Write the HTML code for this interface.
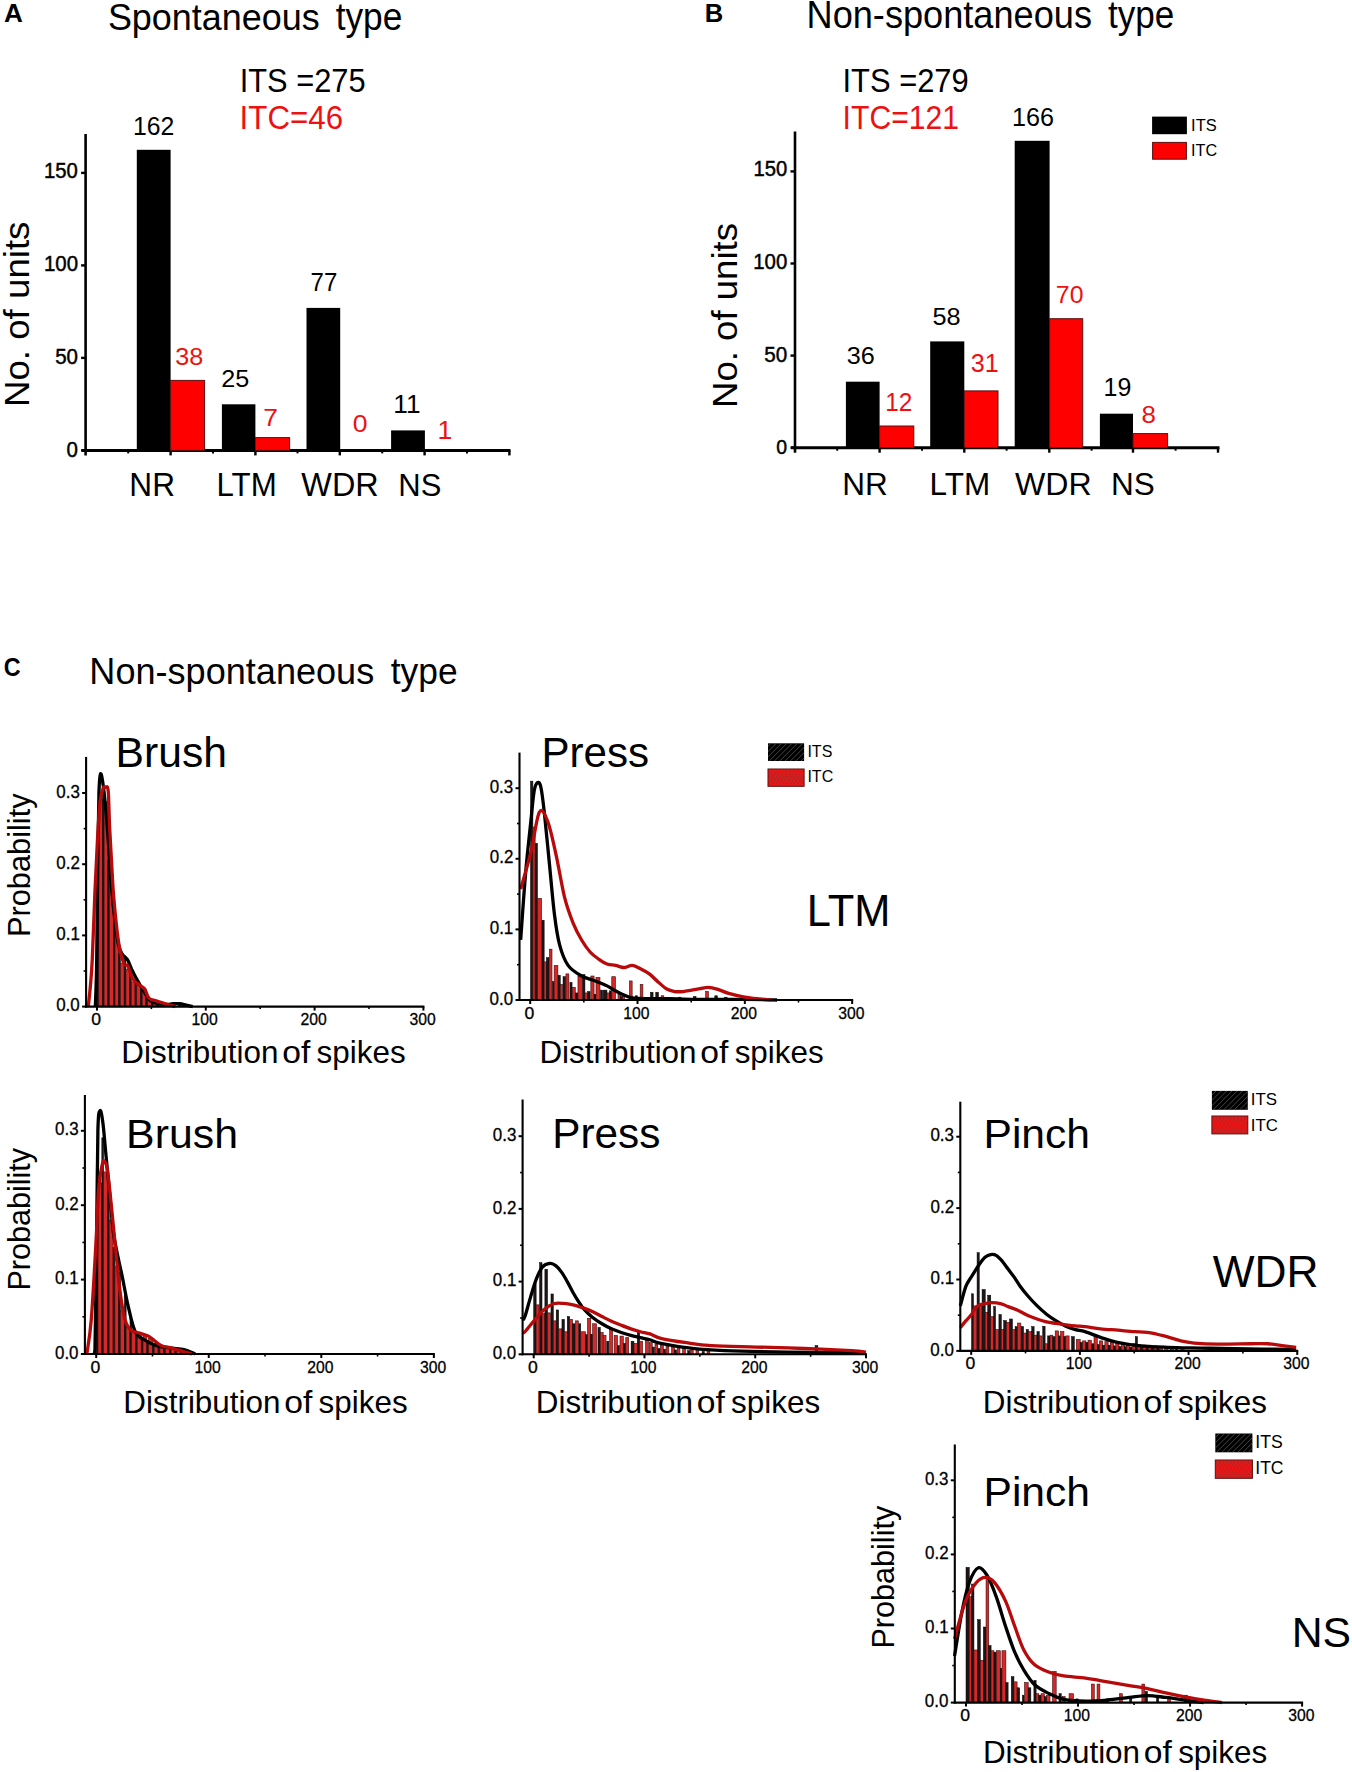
<!DOCTYPE html>
<html><head><meta charset="utf-8"><style>
html,body{margin:0;padding:0;background:#fff;}
svg{display:block;}
text{font-family:"Liberation Sans", sans-serif;}
</style></head><body>
<svg width="1352" height="1772" viewBox="0 0 1352 1772">
<rect x="0" y="0" width="1352" height="1772" fill="#fff"/>
<text transform="translate(4.05,22.20) scale(1.0261,1)" font-size="25.45" font-weight="bold" fill="#000">A</text>
<text transform="translate(107.88,29.60) scale(0.9573,1)" font-size="37.56" font-weight="normal" fill="#000">Spontaneous</text>
<text transform="translate(335.67,29.60) scale(0.9146,1)" font-size="38.60" font-weight="normal" fill="#000">type</text>
<text transform="translate(239.65,92.10) scale(0.9435,1)" font-size="32.69" font-weight="normal" fill="#000">ITS =275</text>
<text transform="translate(239.61,128.90) scale(0.9573,1)" font-size="32.69" font-weight="normal" fill="#ee1111">ITC=46</text>
<line x1="85.60" y1="134.00" x2="85.60" y2="455.40" stroke="#000" stroke-width="2.6"/>
<line x1="81.60" y1="450.40" x2="510.50" y2="450.40" stroke="#000" stroke-width="3"/>
<line x1="81.10" y1="450.40" x2="85.60" y2="450.40" stroke="#000" stroke-width="2.4"/>
<line x1="81.10" y1="357.90" x2="85.60" y2="357.90" stroke="#000" stroke-width="2.4"/>
<line x1="81.10" y1="265.40" x2="85.60" y2="265.40" stroke="#000" stroke-width="2.4"/>
<line x1="81.10" y1="172.90" x2="85.60" y2="172.90" stroke="#000" stroke-width="2.4"/>
<line x1="170.60" y1="450.40" x2="170.60" y2="455.40" stroke="#000" stroke-width="2.4"/>
<line x1="255.40" y1="450.40" x2="255.40" y2="455.40" stroke="#000" stroke-width="2.4"/>
<line x1="339.80" y1="450.40" x2="339.80" y2="455.40" stroke="#000" stroke-width="2.4"/>
<line x1="424.60" y1="450.40" x2="424.60" y2="455.40" stroke="#000" stroke-width="2.4"/>
<line x1="509.40" y1="450.40" x2="509.40" y2="455.40" stroke="#000" stroke-width="2.4"/>
<line x1="128.20" y1="450.40" x2="128.20" y2="453.40" stroke="#000" stroke-width="2"/>
<line x1="213.00" y1="450.40" x2="213.00" y2="453.40" stroke="#000" stroke-width="2"/>
<line x1="297.50" y1="450.40" x2="297.50" y2="453.40" stroke="#000" stroke-width="2"/>
<line x1="382.20" y1="450.40" x2="382.20" y2="453.40" stroke="#000" stroke-width="2"/>
<line x1="467.00" y1="450.40" x2="467.00" y2="453.40" stroke="#000" stroke-width="2"/>
<rect x="136.80" y="149.80" width="33.80" height="300.60" fill="#000"/>
<rect x="170.60" y="380.40" width="34.00" height="70.00" fill="#ff0000" stroke="#5a1010" stroke-width="1"/>
<rect x="221.90" y="404.30" width="33.50" height="46.10" fill="#000"/>
<rect x="255.40" y="437.60" width="34.20" height="12.80" fill="#ff0000" stroke="#5a1010" stroke-width="1"/>
<rect x="306.50" y="307.90" width="33.70" height="142.50" fill="#000"/>
<rect x="391.10" y="430.40" width="33.80" height="20.00" fill="#000"/>
<text transform="translate(43.98,178.20) scale(0.9513,1)" font-size="21.36" font-weight="normal" fill="#000" stroke="#000" stroke-width="0.45">150</text>
<text transform="translate(43.97,271.10) scale(0.9573,1)" font-size="21.36" font-weight="normal" fill="#000" stroke="#000" stroke-width="0.45">100</text>
<text transform="translate(55.18,363.90) scale(0.9612,1)" font-size="21.36" font-weight="normal" fill="#000" stroke="#000" stroke-width="0.45">50</text>
<text transform="translate(66.58,456.60) scale(0.9672,1)" font-size="21.22" font-weight="normal" fill="#000" stroke="#000" stroke-width="0.45">0</text>
<text transform="translate(133.04,135.20) scale(0.9491,1)" font-size="26.09" font-weight="normal" fill="#000">162</text>
<text transform="translate(175.26,365.30) scale(1.0138,1)" font-size="24.80" font-weight="normal" fill="#ee1111">38</text>
<text transform="translate(221.14,387.00) scale(1.0159,1)" font-size="24.80" font-weight="normal" fill="#000">25</text>
<text transform="translate(263.18,425.60) scale(1.1056,1)" font-size="23.85" font-weight="normal" fill="#ee1111">7</text>
<text transform="translate(310.60,291.00) scale(0.9506,1)" font-size="25.31" font-weight="normal" fill="#000">77</text>
<text transform="translate(352.74,431.60) scale(1.0786,1)" font-size="24.66" font-weight="normal" fill="#ee1111">0</text>
<text transform="translate(393.33,413.30) scale(1.0484,1)" font-size="25.02" font-weight="normal" fill="#000">11</text>
<text transform="translate(437.41,438.70) scale(1.0628,1)" font-size="25.02" font-weight="normal" fill="#ee1111">1</text>
<text transform="translate(129.29,495.50) scale(0.9666,1)" font-size="32.73" font-weight="normal" fill="#000">NR</text>
<text transform="translate(216.52,495.50) scale(0.9549,1)" font-size="32.73" font-weight="normal" fill="#000">LTM</text>
<text transform="translate(301.34,495.50) scale(0.9906,1)" font-size="32.73" font-weight="normal" fill="#000">WDR</text>
<text transform="translate(398.34,495.50) scale(0.9601,1)" font-size="32.26" font-weight="normal" fill="#000">NS</text>
<text transform="translate(28.90,407.03) rotate(-90) scale(1.0595,1)" font-size="34.62" font-weight="normal" fill="#000">No. of units</text>
<text transform="translate(704.87,22.00) scale(0.9990,1)" font-size="25.60" font-weight="bold" fill="#000">B</text>
<text transform="translate(806.52,28.30) scale(0.9494,1)" font-size="38.11" font-weight="normal" fill="#000">Non-spontaneous</text>
<text transform="translate(1108.07,28.30) scale(0.9089,1)" font-size="38.60" font-weight="normal" fill="#000">type</text>
<text transform="translate(842.54,92.30) scale(0.9365,1)" font-size="32.97" font-weight="normal" fill="#000">ITS =279</text>
<text transform="translate(842.61,128.90) scale(0.9229,1)" font-size="32.69" font-weight="normal" fill="#ee1111">ITC=121</text>
<line x1="795.00" y1="131.50" x2="795.00" y2="452.70" stroke="#000" stroke-width="2.6"/>
<line x1="791.00" y1="447.70" x2="1219.50" y2="447.70" stroke="#000" stroke-width="3"/>
<line x1="790.50" y1="447.70" x2="795.00" y2="447.70" stroke="#000" stroke-width="2.4"/>
<line x1="790.50" y1="355.60" x2="795.00" y2="355.60" stroke="#000" stroke-width="2.4"/>
<line x1="790.50" y1="263.50" x2="795.00" y2="263.50" stroke="#000" stroke-width="2.4"/>
<line x1="790.50" y1="171.40" x2="795.00" y2="171.40" stroke="#000" stroke-width="2.4"/>
<line x1="879.60" y1="447.70" x2="879.60" y2="452.70" stroke="#000" stroke-width="2.4"/>
<line x1="964.30" y1="447.70" x2="964.30" y2="452.70" stroke="#000" stroke-width="2.4"/>
<line x1="1049.30" y1="447.70" x2="1049.30" y2="452.70" stroke="#000" stroke-width="2.4"/>
<line x1="1133.00" y1="447.70" x2="1133.00" y2="452.70" stroke="#000" stroke-width="2.4"/>
<line x1="1218.00" y1="447.70" x2="1218.00" y2="452.70" stroke="#000" stroke-width="2.4"/>
<line x1="837.20" y1="447.70" x2="837.20" y2="450.70" stroke="#000" stroke-width="2"/>
<line x1="922.00" y1="447.70" x2="922.00" y2="450.70" stroke="#000" stroke-width="2"/>
<line x1="1006.60" y1="447.70" x2="1006.60" y2="450.70" stroke="#000" stroke-width="2"/>
<line x1="1091.60" y1="447.70" x2="1091.60" y2="450.70" stroke="#000" stroke-width="2"/>
<line x1="1175.60" y1="447.70" x2="1175.60" y2="450.70" stroke="#000" stroke-width="2"/>
<rect x="845.90" y="381.70" width="33.70" height="66.00" fill="#000"/>
<rect x="879.60" y="426.00" width="34.20" height="21.70" fill="#ff0000" stroke="#5a1010" stroke-width="1"/>
<rect x="930.20" y="341.40" width="34.10" height="106.30" fill="#000"/>
<rect x="964.30" y="390.90" width="33.70" height="56.80" fill="#ff0000" stroke="#5a1010" stroke-width="1"/>
<rect x="1014.70" y="140.80" width="34.90" height="306.90" fill="#000"/>
<rect x="1049.60" y="318.70" width="33.10" height="129.00" fill="#ff0000" stroke="#5a1010" stroke-width="1"/>
<rect x="1099.90" y="413.70" width="33.10" height="34.00" fill="#000"/>
<rect x="1133.00" y="433.60" width="34.60" height="14.10" fill="#ff0000" stroke="#5a1010" stroke-width="1"/>
<rect x="1152.10" y="116.60" width="34.80" height="17.60" fill="#000"/>
<rect x="1152.60" y="142.40" width="33.80" height="16.80" fill="#ff0000" stroke="#5a1010" stroke-width="1"/>
<text transform="translate(1191.08,131.40) scale(0.9799,1)" font-size="16.77" font-weight="normal" fill="#000">ITS</text>
<text transform="translate(1191.10,155.60) scale(0.9426,1)" font-size="17.20" font-weight="normal" fill="#000">ITC</text>
<text transform="translate(753.48,176.00) scale(0.9357,1)" font-size="21.65" font-weight="normal" fill="#000" stroke="#000" stroke-width="0.45">150</text>
<text transform="translate(753.27,268.70) scale(0.9479,1)" font-size="21.51" font-weight="normal" fill="#000" stroke="#000" stroke-width="0.45">100</text>
<text transform="translate(764.37,361.70) scale(0.9593,1)" font-size="21.51" font-weight="normal" fill="#000" stroke="#000" stroke-width="0.45">50</text>
<text transform="translate(776.22,454.20) scale(0.9241,1)" font-size="21.08" font-weight="normal" fill="#000" stroke="#000" stroke-width="0.45">0</text>
<text transform="translate(846.75,363.90) scale(1.0237,1)" font-size="24.66" font-weight="normal" fill="#000">36</text>
<text transform="translate(885.26,411.20) scale(0.9642,1)" font-size="25.38" font-weight="normal" fill="#ee1111">12</text>
<text transform="translate(932.49,324.90) scale(1.0261,1)" font-size="24.66" font-weight="normal" fill="#000">58</text>
<text transform="translate(970.66,372.20) scale(1.0032,1)" font-size="25.09" font-weight="normal" fill="#ee1111">31</text>
<text transform="translate(1012.01,125.80) scale(1.0029,1)" font-size="25.09" font-weight="normal" fill="#000">166</text>
<text transform="translate(1055.86,303.30) scale(1.0015,1)" font-size="24.80" font-weight="normal" fill="#ee1111">70</text>
<text transform="translate(1103.53,396.10) scale(1.0001,1)" font-size="24.95" font-weight="normal" fill="#000">19</text>
<text transform="translate(1141.40,423.30) scale(1.0907,1)" font-size="23.80" font-weight="normal" fill="#ee1111">8</text>
<text transform="translate(842.20,495.40) scale(0.9862,1)" font-size="32.00" font-weight="normal" fill="#000">NR</text>
<text transform="translate(929.50,495.40) scale(0.9837,1)" font-size="32.00" font-weight="normal" fill="#000">LTM</text>
<text transform="translate(1014.94,495.40) scale(1.0037,1)" font-size="32.00" font-weight="normal" fill="#000">WDR</text>
<text transform="translate(1111.10,495.40) scale(0.9995,1)" font-size="31.54" font-weight="normal" fill="#000">NS</text>
<text transform="translate(736.60,408.02) rotate(-90) scale(1.0325,1)" font-size="35.45" font-weight="normal" fill="#000">No. of units</text>
<text transform="translate(3.77,675.70) scale(0.8760,1)" font-size="26.67" font-weight="bold" fill="#000">C</text>
<text transform="translate(89.32,684.30) scale(0.9769,1)" font-size="36.95" font-weight="normal" fill="#000">Non-spontaneous</text>
<text transform="translate(390.77,684.30) scale(0.9464,1)" font-size="37.36" font-weight="normal" fill="#000">type</text>
<rect x="96.98" y="840.93" width="1.74" height="165.67" fill="#1e1616" stroke="#000" stroke-width="0.5"/>
<rect x="98.72" y="799.44" width="3.70" height="207.16" fill="#d62828" stroke="#3a0c0c" stroke-width="0.6"/>
<rect x="102.42" y="794.71" width="1.74" height="211.89" fill="#1e1616" stroke="#000" stroke-width="0.5"/>
<rect x="104.16" y="801.46" width="3.70" height="205.14" fill="#d62828" stroke="#3a0c0c" stroke-width="0.6"/>
<rect x="107.86" y="860.04" width="1.74" height="146.56" fill="#1e1616" stroke="#000" stroke-width="0.5"/>
<rect x="109.60" y="874.45" width="3.70" height="132.15" fill="#d62828" stroke="#3a0c0c" stroke-width="0.6"/>
<rect x="113.30" y="920.95" width="1.74" height="85.65" fill="#1e1616" stroke="#000" stroke-width="0.5"/>
<rect x="115.04" y="934.15" width="3.70" height="72.45" fill="#d62828" stroke="#3a0c0c" stroke-width="0.6"/>
<rect x="118.74" y="953.11" width="1.74" height="53.49" fill="#1e1616" stroke="#000" stroke-width="0.5"/>
<rect x="120.48" y="963.13" width="3.70" height="43.47" fill="#d62828" stroke="#3a0c0c" stroke-width="0.6"/>
<rect x="124.18" y="958.26" width="1.74" height="48.34" fill="#1e1616" stroke="#000" stroke-width="0.5"/>
<rect x="125.92" y="969.22" width="3.70" height="37.38" fill="#d62828" stroke="#3a0c0c" stroke-width="0.6"/>
<rect x="129.62" y="968.45" width="1.74" height="38.15" fill="#1e1616" stroke="#000" stroke-width="0.5"/>
<rect x="131.36" y="981.87" width="3.70" height="24.73" fill="#d62828" stroke="#3a0c0c" stroke-width="0.6"/>
<rect x="135.06" y="979.87" width="1.74" height="26.73" fill="#1e1616" stroke="#000" stroke-width="0.5"/>
<rect x="136.80" y="985.37" width="3.70" height="21.23" fill="#d62828" stroke="#3a0c0c" stroke-width="0.6"/>
<rect x="140.50" y="989.20" width="1.74" height="17.40" fill="#1e1616" stroke="#000" stroke-width="0.5"/>
<rect x="142.24" y="988.99" width="3.70" height="17.61" fill="#d62828" stroke="#3a0c0c" stroke-width="0.6"/>
<rect x="145.94" y="996.44" width="1.74" height="10.16" fill="#1e1616" stroke="#000" stroke-width="0.5"/>
<rect x="147.69" y="999.12" width="3.70" height="7.48" fill="#d62828" stroke="#3a0c0c" stroke-width="0.6"/>
<rect x="151.38" y="1002.17" width="1.74" height="4.43" fill="#1e1616" stroke="#000" stroke-width="0.5"/>
<rect x="153.13" y="1000.81" width="3.70" height="5.79" fill="#d62828" stroke="#3a0c0c" stroke-width="0.6"/>
<rect x="156.83" y="1003.79" width="1.74" height="2.81" fill="#1e1616" stroke="#000" stroke-width="0.5"/>
<rect x="158.57" y="1002.56" width="3.70" height="4.04" fill="#d62828" stroke="#3a0c0c" stroke-width="0.6"/>
<rect x="162.27" y="1004.37" width="1.74" height="2.23" fill="#1e1616" stroke="#000" stroke-width="0.5"/>
<rect x="164.01" y="1004.16" width="3.70" height="2.44" fill="#d62828" stroke="#3a0c0c" stroke-width="0.6"/>
<rect x="167.71" y="1004.38" width="1.74" height="2.22" fill="#1e1616" stroke="#000" stroke-width="0.5"/>
<rect x="169.45" y="1005.67" width="3.70" height="0.93" fill="#d62828" stroke="#3a0c0c" stroke-width="0.6"/>
<rect x="173.15" y="1003.88" width="1.74" height="2.72" fill="#1e1616" stroke="#000" stroke-width="0.5"/>
<rect x="178.59" y="1003.98" width="1.74" height="2.62" fill="#1e1616" stroke="#000" stroke-width="0.5"/>
<path d="M95.35,1006.60 C95.57,999.48 96.25,987.61 96.65,963.88 C97.05,940.15 97.36,892.68 97.74,864.20 C98.12,835.72 98.47,808.07 98.94,793.00 C99.41,777.93 99.85,774.96 100.57,773.78 C101.30,772.59 102.35,779.12 103.29,785.88 C104.23,792.64 105.29,803.68 106.23,814.36 C107.17,825.04 108.04,837.50 108.95,849.96 C109.86,862.42 110.67,877.25 111.67,889.12 C112.67,900.99 113.85,912.02 114.93,921.16 C116.02,930.30 117.02,938.49 118.20,943.94 C119.38,949.40 120.46,951.30 122.01,953.91 C123.55,956.52 125.81,957.00 127.45,959.61 C129.08,962.22 130.42,966.61 131.80,969.58 C133.18,972.54 133.83,973.97 135.72,977.41 C137.60,980.85 140.67,986.31 143.12,990.22 C145.56,994.14 147.94,998.65 150.41,1000.90 C152.87,1003.16 155.21,1003.16 157.91,1003.75 C160.62,1004.35 164.08,1004.46 166.62,1004.46 C169.16,1004.46 170.97,1003.87 173.15,1003.75 C175.32,1003.63 177.50,1003.51 179.68,1003.75 C181.85,1003.99 184.03,1004.70 186.20,1005.18 C188.38,1005.65 191.64,1006.36 192.73,1006.60" fill="none" stroke="#000" stroke-width="3.3" stroke-linejoin="round"/>
<path d="M88.28,1006.60 C88.64,1003.04 89.78,993.19 90.45,985.24 C91.12,977.29 91.54,974.80 92.30,958.90 C93.06,942.99 94.11,910.60 95.02,889.83 C95.93,869.07 96.87,849.25 97.74,834.30 C98.61,819.34 99.32,807.83 100.24,800.12 C101.17,792.41 102.38,790.15 103.29,788.02 C104.20,785.88 104.87,786.83 105.68,787.30 C106.50,787.78 107.53,784.22 108.19,790.86 C108.84,797.51 109.04,815.31 109.60,827.18 C110.16,839.04 110.89,850.55 111.56,862.06 C112.23,873.57 112.70,884.73 113.63,896.24 C114.55,907.75 116.08,922.35 117.11,931.13 C118.14,939.91 118.67,943.47 119.83,948.93 C120.99,954.39 122.80,961.15 124.07,963.88 C125.34,966.61 126.52,964.12 127.45,965.30 C128.37,966.49 128.73,968.75 129.62,971.00 C130.51,973.25 131.27,976.58 132.78,978.83 C134.28,981.09 136.70,982.87 138.65,984.53 C140.61,986.19 142.83,986.55 144.53,988.80 C146.23,991.05 146.92,996.04 148.88,998.06 C150.84,1000.07 153.14,999.84 156.28,1000.90 C159.42,1001.97 164.53,1003.51 167.71,1004.46 C170.88,1005.41 174.05,1006.24 175.32,1006.60" fill="none" stroke="#b80a0a" stroke-width="3.3" stroke-linejoin="round"/>
<line x1="86.10" y1="756.90" x2="86.10" y2="1007.60" stroke="#000" stroke-width="2.1"/>
<line x1="85.10" y1="1006.60" x2="424.41" y2="1006.60" stroke="#000" stroke-width="2.1"/>
<line x1="82.10" y1="1006.60" x2="86.10" y2="1006.60" stroke="#000" stroke-width="2"/>
<line x1="82.10" y1="935.40" x2="86.10" y2="935.40" stroke="#000" stroke-width="2"/>
<line x1="82.10" y1="864.20" x2="86.10" y2="864.20" stroke="#000" stroke-width="2"/>
<line x1="82.10" y1="793.00" x2="86.10" y2="793.00" stroke="#000" stroke-width="2"/>
<line x1="83.60" y1="971.00" x2="86.10" y2="971.00" stroke="#000" stroke-width="1.6"/>
<line x1="83.60" y1="899.80" x2="86.10" y2="899.80" stroke="#000" stroke-width="1.6"/>
<line x1="83.60" y1="828.60" x2="86.10" y2="828.60" stroke="#000" stroke-width="1.6"/>
<line x1="96.98" y1="1006.60" x2="96.98" y2="1010.60" stroke="#000" stroke-width="2"/>
<line x1="205.79" y1="1006.60" x2="205.79" y2="1010.60" stroke="#000" stroke-width="2"/>
<line x1="314.60" y1="1006.60" x2="314.60" y2="1010.60" stroke="#000" stroke-width="2"/>
<line x1="423.41" y1="1006.60" x2="423.41" y2="1010.60" stroke="#000" stroke-width="2"/>
<line x1="151.38" y1="1006.60" x2="151.38" y2="1009.10" stroke="#000" stroke-width="1.6"/>
<line x1="260.19" y1="1006.60" x2="260.19" y2="1009.10" stroke="#000" stroke-width="1.6"/>
<line x1="369.01" y1="1006.60" x2="369.01" y2="1009.10" stroke="#000" stroke-width="1.6"/>
<text transform="translate(56.15,1011.20) scale(0.9700,1)" font-size="17.49" font-weight="normal" fill="#000" stroke="#000" stroke-width="0.3">0.0</text>
<text transform="translate(56.32,940.00) scale(0.9700,1)" font-size="17.49" font-weight="normal" fill="#000" stroke="#000" stroke-width="0.3">0.1</text>
<text transform="translate(56.37,868.80) scale(0.9700,1)" font-size="17.49" font-weight="normal" fill="#000" stroke="#000" stroke-width="0.3">0.2</text>
<text transform="translate(56.24,797.60) scale(0.9700,1)" font-size="17.49" font-weight="normal" fill="#000" stroke="#000" stroke-width="0.3">0.3</text>
<text transform="translate(91.28,1025.10) scale(1.0400,1)" font-size="16.92" font-weight="normal" fill="#000" stroke="#000" stroke-width="0.3">0</text>
<text transform="translate(191.58,1025.10) scale(0.9300,1)" font-size="16.92" font-weight="normal" fill="#000" stroke="#000" stroke-width="0.3">100</text>
<text transform="translate(300.58,1025.10) scale(0.9300,1)" font-size="16.92" font-weight="normal" fill="#000" stroke="#000" stroke-width="0.3">200</text>
<text transform="translate(409.49,1025.10) scale(0.9300,1)" font-size="16.92" font-weight="normal" fill="#000" stroke="#000" stroke-width="0.3">300</text>
<text transform="translate(115.58,766.70) scale(1.0236,1)" font-size="41.66" font-weight="normal" fill="#000">Brush</text>
<text transform="translate(29.80,937.04) rotate(-90) scale(0.9872,1)" font-size="31.17" font-weight="normal" fill="#000">Probability</text>
<text transform="translate(121.31,1062.80) scale(1.0265,1)" font-size="30.62" font-weight="normal" fill="#000">Distribution</text>
<text transform="translate(282.17,1062.80) scale(1.0771,1)" font-size="31.28" font-weight="normal" fill="#000">of</text>
<text transform="translate(316.54,1062.80) scale(1.0168,1)" font-size="30.90" font-weight="normal" fill="#000">spikes</text>
<rect x="530.52" y="781.14" width="2.36" height="218.86" fill="#1e1616" stroke="#000" stroke-width="0.5"/>
<rect x="532.88" y="827.03" width="2.25" height="172.97" fill="#d62828" stroke="#3a0c0c" stroke-width="0.6"/>
<rect x="535.14" y="843.27" width="2.36" height="156.73" fill="#1e1616" stroke="#000" stroke-width="0.5"/>
<rect x="537.71" y="898.34" width="3.86" height="101.66" fill="#d62828" stroke="#3a0c0c" stroke-width="0.6"/>
<rect x="542.01" y="920.22" width="2.15" height="79.78" fill="#1e1616" stroke="#000" stroke-width="0.5"/>
<rect x="544.15" y="961.88" width="2.25" height="38.12" fill="#d62828" stroke="#3a0c0c" stroke-width="0.6"/>
<rect x="546.41" y="957.64" width="2.58" height="42.36" fill="#1e1616" stroke="#000" stroke-width="0.5"/>
<rect x="549.41" y="949.17" width="2.58" height="50.83" fill="#d62828" stroke="#3a0c0c" stroke-width="0.6"/>
<rect x="552.42" y="981.64" width="1.93" height="18.36" fill="#1e1616" stroke="#000" stroke-width="0.5"/>
<rect x="554.13" y="965.41" width="3.76" height="34.59" fill="#d62828" stroke="#3a0c0c" stroke-width="0.6"/>
<rect x="558.10" y="975.29" width="2.15" height="24.71" fill="#1e1616" stroke="#000" stroke-width="0.5"/>
<rect x="560.25" y="984.47" width="2.15" height="15.53" fill="#d62828" stroke="#3a0c0c" stroke-width="0.6"/>
<rect x="563.04" y="976.70" width="2.58" height="23.30" fill="#1e1616" stroke="#000" stroke-width="0.5"/>
<rect x="565.94" y="973.88" width="2.90" height="26.12" fill="#d62828" stroke="#3a0c0c" stroke-width="0.6"/>
<rect x="569.91" y="982.35" width="2.15" height="17.65" fill="#1e1616" stroke="#000" stroke-width="0.5"/>
<rect x="572.38" y="987.29" width="2.90" height="12.71" fill="#d62828" stroke="#3a0c0c" stroke-width="0.6"/>
<rect x="575.27" y="992.94" width="2.68" height="7.06" fill="#1e1616" stroke="#000" stroke-width="0.5"/>
<rect x="577.96" y="976.00" width="4.29" height="24.00" fill="#d62828" stroke="#3a0c0c" stroke-width="0.6"/>
<rect x="582.79" y="974.58" width="2.15" height="25.42" fill="#1e1616" stroke="#000" stroke-width="0.5"/>
<rect x="584.93" y="992.94" width="2.68" height="7.06" fill="#d62828" stroke="#3a0c0c" stroke-width="0.6"/>
<rect x="587.62" y="991.53" width="2.47" height="8.47" fill="#1e1616" stroke="#000" stroke-width="0.5"/>
<rect x="590.84" y="976.00" width="3.22" height="24.00" fill="#d62828" stroke="#3a0c0c" stroke-width="0.6"/>
<rect x="594.06" y="994.35" width="1.93" height="5.65" fill="#1e1616" stroke="#000" stroke-width="0.5"/>
<rect x="595.99" y="977.41" width="3.97" height="22.59" fill="#d62828" stroke="#3a0c0c" stroke-width="0.6"/>
<rect x="600.49" y="990.12" width="2.15" height="9.88" fill="#1e1616" stroke="#000" stroke-width="0.5"/>
<rect x="603.18" y="990.12" width="3.76" height="9.88" fill="#1e1616" stroke="#000" stroke-width="0.5"/>
<rect x="606.93" y="992.94" width="2.36" height="7.06" fill="#d62828" stroke="#3a0c0c" stroke-width="0.6"/>
<rect x="609.29" y="990.82" width="2.47" height="9.18" fill="#1e1616" stroke="#000" stroke-width="0.5"/>
<rect x="611.76" y="976.70" width="3.76" height="23.30" fill="#d62828" stroke="#3a0c0c" stroke-width="0.6"/>
<rect x="617.99" y="994.35" width="2.36" height="5.65" fill="#d62828" stroke="#3a0c0c" stroke-width="0.6"/>
<rect x="620.35" y="996.47" width="2.15" height="3.53" fill="#1e1616" stroke="#000" stroke-width="0.5"/>
<rect x="622.50" y="996.47" width="2.15" height="3.53" fill="#d62828" stroke="#3a0c0c" stroke-width="0.6"/>
<rect x="629.47" y="980.94" width="2.68" height="19.06" fill="#d62828" stroke="#3a0c0c" stroke-width="0.6"/>
<rect x="635.37" y="995.76" width="2.15" height="4.24" fill="#1e1616" stroke="#000" stroke-width="0.5"/>
<rect x="640.20" y="984.47" width="2.68" height="15.53" fill="#d62828" stroke="#3a0c0c" stroke-width="0.6"/>
<rect x="650.40" y="992.23" width="2.68" height="7.77" fill="#1e1616" stroke="#000" stroke-width="0.5"/>
<rect x="655.76" y="992.23" width="2.68" height="7.77" fill="#1e1616" stroke="#000" stroke-width="0.5"/>
<rect x="661.13" y="995.76" width="2.68" height="4.24" fill="#d62828" stroke="#3a0c0c" stroke-width="0.6"/>
<rect x="678.30" y="997.18" width="2.68" height="2.82" fill="#1e1616" stroke="#000" stroke-width="0.5"/>
<rect x="693.33" y="996.47" width="2.68" height="3.53" fill="#1e1616" stroke="#000" stroke-width="0.5"/>
<rect x="705.67" y="991.53" width="2.68" height="8.47" fill="#d62828" stroke="#3a0c0c" stroke-width="0.6"/>
<rect x="714.79" y="995.76" width="2.68" height="4.24" fill="#1e1616" stroke="#000" stroke-width="0.5"/>
<rect x="724.45" y="997.18" width="2.68" height="2.82" fill="#1e1616" stroke="#000" stroke-width="0.5"/>
<path d="M520.65,939.99 C521.49,928.69 523.99,891.98 525.69,872.21 C527.39,852.45 529.43,834.91 530.84,821.38 C532.26,807.85 533.04,797.50 534.17,791.02 C535.30,784.55 536.48,783.14 537.61,782.55 C538.73,781.96 539.81,782.43 540.93,787.49 C542.06,792.55 542.95,800.20 544.37,812.91 C545.78,825.62 547.73,846.80 549.41,863.74 C551.09,880.69 552.76,901.04 554.45,914.57 C556.15,928.11 557.33,936.46 559.61,944.93 C561.88,953.40 564.42,960.23 568.08,965.41 C571.75,970.58 577.08,973.41 581.61,976.00 C586.13,978.58 591.00,979.29 595.24,980.94 C599.48,982.59 603.66,984.23 607.04,985.88 C610.42,987.53 612.71,989.29 615.52,990.82 C618.33,992.35 621.08,993.88 623.89,995.06 C626.70,996.23 628.13,997.29 632.37,997.88 C636.61,998.47 643.10,998.47 649.33,998.59 C655.55,998.71 662.74,998.47 669.72,998.59 C676.69,998.71 678.66,999.18 691.18,999.29 C703.70,999.41 730.53,999.18 744.84,999.29 C759.15,999.41 771.67,999.88 777.04,1000.00" fill="none" stroke="#000" stroke-width="3.3" stroke-linejoin="round"/>
<path d="M520.65,889.16 C522.35,883.04 527.73,865.27 530.84,852.45 C533.96,839.62 536.51,817.38 539.32,812.20 C542.13,807.03 544.88,814.20 547.69,821.38 C550.50,828.56 553.35,842.56 556.17,855.27 C559.00,867.98 561.82,886.33 564.65,897.63 C567.48,908.93 570.30,915.99 573.13,923.05 C575.95,930.11 578.78,935.17 581.61,939.99 C584.43,944.81 587.26,948.81 590.08,951.99 C592.91,955.17 595.74,957.05 598.56,959.05 C601.39,961.05 604.22,962.94 607.04,963.99 C609.87,965.05 612.71,964.82 615.52,965.41 C618.33,965.99 621.08,967.52 623.89,967.52 C626.70,967.52 629.54,965.17 632.37,965.41 C635.19,965.64 638.02,967.52 640.85,968.94 C643.67,970.35 646.50,971.76 649.33,973.88 C652.15,976.00 654.98,979.17 657.80,981.64 C660.63,984.12 663.46,987.06 666.28,988.70 C669.11,990.35 671.95,991.06 674.76,991.53 C677.57,992.00 680.32,991.76 683.13,991.53 C685.94,991.29 688.80,990.59 691.61,990.12 C694.42,989.65 697.19,989.17 699.98,988.70 C702.77,988.23 705.35,987.17 708.35,987.29 C711.36,987.41 714.61,988.39 718.01,989.41 C721.41,990.43 724.27,992.14 728.74,993.43 C733.21,994.73 739.65,996.25 744.84,997.18 C750.03,998.11 755.39,998.54 759.86,999.01 C764.34,999.48 769.70,999.84 771.67,1000.00" fill="none" stroke="#b80a0a" stroke-width="3.3" stroke-linejoin="round"/>
<line x1="519.50" y1="752.60" x2="519.50" y2="1001.00" stroke="#000" stroke-width="2.1"/>
<line x1="518.50" y1="1000.00" x2="853.16" y2="1000.00" stroke="#000" stroke-width="2.1"/>
<line x1="515.50" y1="1000.00" x2="519.50" y2="1000.00" stroke="#000" stroke-width="2"/>
<line x1="515.50" y1="929.40" x2="519.50" y2="929.40" stroke="#000" stroke-width="2"/>
<line x1="515.50" y1="858.80" x2="519.50" y2="858.80" stroke="#000" stroke-width="2"/>
<line x1="515.50" y1="788.20" x2="519.50" y2="788.20" stroke="#000" stroke-width="2"/>
<line x1="517.00" y1="964.70" x2="519.50" y2="964.70" stroke="#000" stroke-width="1.6"/>
<line x1="517.00" y1="894.10" x2="519.50" y2="894.10" stroke="#000" stroke-width="1.6"/>
<line x1="517.00" y1="823.50" x2="519.50" y2="823.50" stroke="#000" stroke-width="1.6"/>
<line x1="530.20" y1="1000.00" x2="530.20" y2="1004.00" stroke="#000" stroke-width="2"/>
<line x1="637.52" y1="1000.00" x2="637.52" y2="1004.00" stroke="#000" stroke-width="2"/>
<line x1="744.84" y1="1000.00" x2="744.84" y2="1004.00" stroke="#000" stroke-width="2"/>
<line x1="852.16" y1="1000.00" x2="852.16" y2="1004.00" stroke="#000" stroke-width="2"/>
<line x1="583.86" y1="1000.00" x2="583.86" y2="1002.50" stroke="#000" stroke-width="1.6"/>
<line x1="691.18" y1="1000.00" x2="691.18" y2="1002.50" stroke="#000" stroke-width="1.6"/>
<line x1="798.50" y1="1000.00" x2="798.50" y2="1002.50" stroke="#000" stroke-width="1.6"/>
<text transform="translate(489.55,1004.60) scale(0.9700,1)" font-size="17.49" font-weight="normal" fill="#000" stroke="#000" stroke-width="0.3">0.0</text>
<text transform="translate(489.72,934.00) scale(0.9700,1)" font-size="17.49" font-weight="normal" fill="#000" stroke="#000" stroke-width="0.3">0.1</text>
<text transform="translate(489.77,863.40) scale(0.9700,1)" font-size="17.49" font-weight="normal" fill="#000" stroke="#000" stroke-width="0.3">0.2</text>
<text transform="translate(489.64,792.80) scale(0.9700,1)" font-size="17.49" font-weight="normal" fill="#000" stroke="#000" stroke-width="0.3">0.3</text>
<text transform="translate(524.50,1018.50) scale(1.0400,1)" font-size="16.92" font-weight="normal" fill="#000" stroke="#000" stroke-width="0.3">0</text>
<text transform="translate(623.31,1018.50) scale(0.9300,1)" font-size="16.92" font-weight="normal" fill="#000" stroke="#000" stroke-width="0.3">100</text>
<text transform="translate(730.82,1018.50) scale(0.9300,1)" font-size="16.92" font-weight="normal" fill="#000" stroke="#000" stroke-width="0.3">200</text>
<text transform="translate(838.24,1018.50) scale(0.9300,1)" font-size="16.92" font-weight="normal" fill="#000" stroke="#000" stroke-width="0.3">300</text>
<text transform="translate(541.43,766.50) scale(0.9711,1)" font-size="43.35" font-weight="normal" fill="#000">Press</text>
<text transform="translate(806.81,926.40) scale(0.9862,1)" font-size="44.07" font-weight="normal" fill="#000">LTM</text>
<rect x="768.00" y="743.30" width="36.10" height="17.70" fill="#000"/>
<g clip-path="url(#clip768_743)">
<clipPath id="clip768_743"><rect x="768.0" y="743.3" width="36.10000000000002" height="17.700000000000045"/></clipPath>
<line x1="748.0" y1="761.0" x2="765.7" y2="743.3" stroke="#555" stroke-width="0.8"/>
<line x1="753.3" y1="761.0" x2="771.0" y2="743.3" stroke="#555" stroke-width="0.8"/>
<line x1="758.6" y1="761.0" x2="776.3" y2="743.3" stroke="#555" stroke-width="0.8"/>
<line x1="763.9" y1="761.0" x2="781.6" y2="743.3" stroke="#555" stroke-width="0.8"/>
<line x1="769.2" y1="761.0" x2="786.9" y2="743.3" stroke="#555" stroke-width="0.8"/>
<line x1="774.5" y1="761.0" x2="792.2" y2="743.3" stroke="#555" stroke-width="0.8"/>
<line x1="779.8" y1="761.0" x2="797.5" y2="743.3" stroke="#555" stroke-width="0.8"/>
<line x1="785.1" y1="761.0" x2="802.8" y2="743.3" stroke="#555" stroke-width="0.8"/>
<line x1="790.4" y1="761.0" x2="808.1" y2="743.3" stroke="#555" stroke-width="0.8"/>
<line x1="795.7" y1="761.0" x2="813.4" y2="743.3" stroke="#555" stroke-width="0.8"/>
<line x1="801.0" y1="761.0" x2="818.7" y2="743.3" stroke="#555" stroke-width="0.8"/>
<line x1="806.3" y1="761.0" x2="824.0" y2="743.3" stroke="#555" stroke-width="0.8"/>
<line x1="811.6" y1="761.0" x2="829.3" y2="743.3" stroke="#555" stroke-width="0.8"/>
<line x1="816.9" y1="761.0" x2="834.6" y2="743.3" stroke="#555" stroke-width="0.8"/>
<line x1="822.2" y1="761.0" x2="839.9" y2="743.3" stroke="#555" stroke-width="0.8"/>
</g>
<rect x="768.00" y="769.00" width="36.10" height="17.30" fill="#f01414" stroke="#5a0c0c" stroke-width="1"/>
<g clip-path="url(#clipr768_769)">
<clipPath id="clipr768_769"><rect x="768.5" y="769.5" width="35.10000000000002" height="16.299999999999955"/></clipPath>
<line x1="748.0" y1="769.0" x2="765.3" y2="786.3" stroke="#9a2c2c" stroke-width="1.5" stroke-dasharray="1.6,1.6"/>
<line x1="751.6" y1="769.0" x2="768.9" y2="786.3" stroke="#9a2c2c" stroke-width="1.5" stroke-dasharray="1.6,1.6"/>
<line x1="755.2" y1="769.0" x2="772.5" y2="786.3" stroke="#9a2c2c" stroke-width="1.5" stroke-dasharray="1.6,1.6"/>
<line x1="758.8" y1="769.0" x2="776.1" y2="786.3" stroke="#9a2c2c" stroke-width="1.5" stroke-dasharray="1.6,1.6"/>
<line x1="762.4" y1="769.0" x2="779.7" y2="786.3" stroke="#9a2c2c" stroke-width="1.5" stroke-dasharray="1.6,1.6"/>
<line x1="766.0" y1="769.0" x2="783.3" y2="786.3" stroke="#9a2c2c" stroke-width="1.5" stroke-dasharray="1.6,1.6"/>
<line x1="769.6" y1="769.0" x2="786.9" y2="786.3" stroke="#9a2c2c" stroke-width="1.5" stroke-dasharray="1.6,1.6"/>
<line x1="773.2" y1="769.0" x2="790.5" y2="786.3" stroke="#9a2c2c" stroke-width="1.5" stroke-dasharray="1.6,1.6"/>
<line x1="776.8" y1="769.0" x2="794.1" y2="786.3" stroke="#9a2c2c" stroke-width="1.5" stroke-dasharray="1.6,1.6"/>
<line x1="780.4" y1="769.0" x2="797.7" y2="786.3" stroke="#9a2c2c" stroke-width="1.5" stroke-dasharray="1.6,1.6"/>
<line x1="784.0" y1="769.0" x2="801.3" y2="786.3" stroke="#9a2c2c" stroke-width="1.5" stroke-dasharray="1.6,1.6"/>
<line x1="787.6" y1="769.0" x2="804.9" y2="786.3" stroke="#9a2c2c" stroke-width="1.5" stroke-dasharray="1.6,1.6"/>
<line x1="791.2" y1="769.0" x2="808.5" y2="786.3" stroke="#9a2c2c" stroke-width="1.5" stroke-dasharray="1.6,1.6"/>
<line x1="794.8" y1="769.0" x2="812.1" y2="786.3" stroke="#9a2c2c" stroke-width="1.5" stroke-dasharray="1.6,1.6"/>
<line x1="798.4" y1="769.0" x2="815.7" y2="786.3" stroke="#9a2c2c" stroke-width="1.5" stroke-dasharray="1.6,1.6"/>
<line x1="802.0" y1="769.0" x2="819.3" y2="786.3" stroke="#9a2c2c" stroke-width="1.5" stroke-dasharray="1.6,1.6"/>
<line x1="805.6" y1="769.0" x2="822.9" y2="786.3" stroke="#9a2c2c" stroke-width="1.5" stroke-dasharray="1.6,1.6"/>
<line x1="809.2" y1="769.0" x2="826.5" y2="786.3" stroke="#9a2c2c" stroke-width="1.5" stroke-dasharray="1.6,1.6"/>
<line x1="812.8" y1="769.0" x2="830.1" y2="786.3" stroke="#9a2c2c" stroke-width="1.5" stroke-dasharray="1.6,1.6"/>
<line x1="816.4" y1="769.0" x2="833.7" y2="786.3" stroke="#9a2c2c" stroke-width="1.5" stroke-dasharray="1.6,1.6"/>
<line x1="820.0" y1="769.0" x2="837.3" y2="786.3" stroke="#9a2c2c" stroke-width="1.5" stroke-dasharray="1.6,1.6"/>
<line x1="823.6" y1="769.0" x2="840.9" y2="786.3" stroke="#9a2c2c" stroke-width="1.5" stroke-dasharray="1.6,1.6"/>
</g>
<text transform="translate(807.42,756.60) scale(0.9885,1)" font-size="16.20" font-weight="normal" fill="#000">ITS</text>
<text transform="translate(807.42,782.30) scale(0.9884,1)" font-size="16.20" font-weight="normal" fill="#000">ITC</text>
<text transform="translate(539.41,1063.30) scale(1.0265,1)" font-size="30.62" font-weight="normal" fill="#000">Distribution</text>
<text transform="translate(700.27,1063.30) scale(1.0771,1)" font-size="31.28" font-weight="normal" fill="#000">of</text>
<text transform="translate(734.64,1063.30) scale(1.0168,1)" font-size="30.90" font-weight="normal" fill="#000">spikes</text>
<rect x="96.20" y="1167.26" width="1.80" height="186.74" fill="#1e1616" stroke="#000" stroke-width="0.5"/>
<rect x="98.00" y="1183.03" width="3.83" height="170.97" fill="#d62828" stroke="#3a0c0c" stroke-width="0.6"/>
<rect x="101.83" y="1137.80" width="1.80" height="216.20" fill="#1e1616" stroke="#000" stroke-width="0.5"/>
<rect x="103.63" y="1171.90" width="3.83" height="182.10" fill="#d62828" stroke="#3a0c0c" stroke-width="0.6"/>
<rect x="107.45" y="1190.30" width="1.80" height="163.70" fill="#1e1616" stroke="#000" stroke-width="0.5"/>
<rect x="109.26" y="1219.99" width="3.83" height="134.01" fill="#d62828" stroke="#3a0c0c" stroke-width="0.6"/>
<rect x="113.08" y="1247.49" width="1.80" height="106.51" fill="#1e1616" stroke="#000" stroke-width="0.5"/>
<rect x="114.88" y="1266.13" width="3.83" height="87.87" fill="#d62828" stroke="#3a0c0c" stroke-width="0.6"/>
<rect x="118.71" y="1271.93" width="1.80" height="82.07" fill="#1e1616" stroke="#000" stroke-width="0.5"/>
<rect x="120.51" y="1310.67" width="3.83" height="43.33" fill="#d62828" stroke="#3a0c0c" stroke-width="0.6"/>
<rect x="124.34" y="1294.15" width="1.80" height="59.85" fill="#1e1616" stroke="#000" stroke-width="0.5"/>
<rect x="126.14" y="1327.27" width="3.83" height="26.73" fill="#d62828" stroke="#3a0c0c" stroke-width="0.6"/>
<rect x="129.97" y="1318.12" width="1.80" height="35.88" fill="#1e1616" stroke="#000" stroke-width="0.5"/>
<rect x="131.77" y="1332.27" width="3.83" height="21.73" fill="#d62828" stroke="#3a0c0c" stroke-width="0.6"/>
<rect x="135.59" y="1333.79" width="1.80" height="20.21" fill="#1e1616" stroke="#000" stroke-width="0.5"/>
<rect x="137.39" y="1334.64" width="3.83" height="19.36" fill="#d62828" stroke="#3a0c0c" stroke-width="0.6"/>
<rect x="141.22" y="1338.50" width="1.80" height="15.50" fill="#1e1616" stroke="#000" stroke-width="0.5"/>
<rect x="143.02" y="1335.31" width="3.83" height="18.69" fill="#d62828" stroke="#3a0c0c" stroke-width="0.6"/>
<rect x="146.85" y="1342.25" width="1.80" height="11.75" fill="#1e1616" stroke="#000" stroke-width="0.5"/>
<rect x="148.65" y="1338.41" width="3.83" height="15.59" fill="#d62828" stroke="#3a0c0c" stroke-width="0.6"/>
<rect x="152.47" y="1344.54" width="1.80" height="9.46" fill="#1e1616" stroke="#000" stroke-width="0.5"/>
<rect x="154.28" y="1343.13" width="3.83" height="10.87" fill="#d62828" stroke="#3a0c0c" stroke-width="0.6"/>
<rect x="158.10" y="1346.30" width="1.80" height="7.70" fill="#1e1616" stroke="#000" stroke-width="0.5"/>
<rect x="159.90" y="1346.21" width="3.83" height="7.79" fill="#d62828" stroke="#3a0c0c" stroke-width="0.6"/>
<rect x="163.73" y="1347.40" width="1.80" height="6.60" fill="#1e1616" stroke="#000" stroke-width="0.5"/>
<rect x="165.53" y="1347.71" width="3.83" height="6.29" fill="#d62828" stroke="#3a0c0c" stroke-width="0.6"/>
<rect x="169.36" y="1347.93" width="1.80" height="6.07" fill="#1e1616" stroke="#000" stroke-width="0.5"/>
<rect x="171.16" y="1348.78" width="3.83" height="5.22" fill="#d62828" stroke="#3a0c0c" stroke-width="0.6"/>
<rect x="174.99" y="1348.72" width="1.80" height="5.28" fill="#1e1616" stroke="#000" stroke-width="0.5"/>
<rect x="176.79" y="1350.33" width="3.83" height="3.67" fill="#d62828" stroke="#3a0c0c" stroke-width="0.6"/>
<rect x="180.61" y="1349.40" width="1.80" height="4.60" fill="#1e1616" stroke="#000" stroke-width="0.5"/>
<rect x="182.41" y="1352.02" width="3.83" height="1.98" fill="#d62828" stroke="#3a0c0c" stroke-width="0.6"/>
<rect x="186.24" y="1351.13" width="1.80" height="2.87" fill="#1e1616" stroke="#000" stroke-width="0.5"/>
<rect x="188.04" y="1353.61" width="3.83" height="0.39" fill="#d62828" stroke="#3a0c0c" stroke-width="0.6"/>
<path d="M93.95,1354.00 C94.12,1353.26 94.53,1354.00 94.96,1349.54 C95.39,1331.80 96.05,1284.06 96.54,1247.61 C97.03,1211.15 97.29,1153.62 97.89,1130.80 C98.49,1107.98 99.30,1111.95 100.14,1110.71 C100.98,1109.47 101.98,1115.92 102.95,1123.36 C103.93,1130.80 104.87,1143.57 105.99,1155.35 C107.12,1167.13 108.49,1181.27 109.71,1194.04 C110.93,1206.81 111.99,1221.82 113.31,1231.98 C114.62,1242.15 116.12,1247.73 117.58,1255.05 C119.05,1262.36 120.34,1267.45 122.09,1275.88 C123.83,1284.31 125.86,1296.34 128.05,1305.64 C130.25,1314.94 132.33,1325.85 135.25,1331.68 C138.18,1337.51 141.93,1338.25 145.61,1340.61 C149.29,1342.96 152.93,1344.58 157.31,1345.82 C161.70,1347.06 167.50,1347.43 171.95,1348.05 C176.39,1348.67 180.11,1348.54 183.99,1349.54 C187.87,1350.53 193.37,1353.26 195.24,1354.00" fill="none" stroke="#000" stroke-width="3.3" stroke-linejoin="round"/>
<path d="M86.86,1354.00 C87.59,1348.30 89.77,1337.63 91.25,1319.78 C92.73,1301.92 94.51,1268.81 95.75,1246.86 C96.99,1224.92 97.59,1201.85 98.68,1188.09 C99.76,1174.32 101.30,1168.74 102.28,1164.28 C103.25,1159.82 103.67,1160.31 104.53,1161.30 C105.39,1162.30 106.37,1163.29 107.45,1170.23 C108.54,1177.18 109.72,1190.20 111.06,1202.97 C112.39,1215.74 113.96,1232.23 115.45,1246.86 C116.93,1261.50 118.35,1278.61 119.95,1290.76 C121.54,1302.91 123.19,1313.20 125.01,1319.78 C126.83,1326.35 128.43,1327.96 130.87,1330.19 C133.30,1332.42 136.70,1332.18 139.64,1333.17 C142.59,1334.16 146.08,1334.90 148.54,1336.14 C150.99,1337.38 152.19,1339.00 154.39,1340.61 C156.58,1342.22 158.78,1344.58 161.70,1345.82 C164.63,1347.06 168.23,1347.06 171.95,1348.05 C175.66,1349.04 180.67,1350.78 183.99,1351.77 C187.31,1352.76 190.55,1353.63 191.87,1354.00" fill="none" stroke="#b80a0a" stroke-width="3.3" stroke-linejoin="round"/>
<line x1="84.90" y1="1095.00" x2="84.90" y2="1355.00" stroke="#000" stroke-width="2.1"/>
<line x1="83.90" y1="1354.00" x2="434.85" y2="1354.00" stroke="#000" stroke-width="2.1"/>
<line x1="80.90" y1="1354.00" x2="84.90" y2="1354.00" stroke="#000" stroke-width="2"/>
<line x1="80.90" y1="1279.60" x2="84.90" y2="1279.60" stroke="#000" stroke-width="2"/>
<line x1="80.90" y1="1205.20" x2="84.90" y2="1205.20" stroke="#000" stroke-width="2"/>
<line x1="80.90" y1="1130.80" x2="84.90" y2="1130.80" stroke="#000" stroke-width="2"/>
<line x1="82.40" y1="1316.80" x2="84.90" y2="1316.80" stroke="#000" stroke-width="1.6"/>
<line x1="82.40" y1="1242.40" x2="84.90" y2="1242.40" stroke="#000" stroke-width="1.6"/>
<line x1="82.40" y1="1168.00" x2="84.90" y2="1168.00" stroke="#000" stroke-width="1.6"/>
<line x1="96.20" y1="1354.00" x2="96.20" y2="1358.00" stroke="#000" stroke-width="2"/>
<line x1="208.75" y1="1354.00" x2="208.75" y2="1358.00" stroke="#000" stroke-width="2"/>
<line x1="321.30" y1="1354.00" x2="321.30" y2="1358.00" stroke="#000" stroke-width="2"/>
<line x1="433.85" y1="1354.00" x2="433.85" y2="1358.00" stroke="#000" stroke-width="2"/>
<line x1="152.47" y1="1354.00" x2="152.47" y2="1356.50" stroke="#000" stroke-width="1.6"/>
<line x1="265.02" y1="1354.00" x2="265.02" y2="1356.50" stroke="#000" stroke-width="1.6"/>
<line x1="377.57" y1="1354.00" x2="377.57" y2="1356.50" stroke="#000" stroke-width="1.6"/>
<text transform="translate(54.95,1358.60) scale(0.9700,1)" font-size="17.49" font-weight="normal" fill="#000" stroke="#000" stroke-width="0.3">0.0</text>
<text transform="translate(55.12,1284.20) scale(0.9700,1)" font-size="17.49" font-weight="normal" fill="#000" stroke="#000" stroke-width="0.3">0.1</text>
<text transform="translate(55.17,1209.80) scale(0.9700,1)" font-size="17.49" font-weight="normal" fill="#000" stroke="#000" stroke-width="0.3">0.2</text>
<text transform="translate(55.04,1135.40) scale(0.9700,1)" font-size="17.49" font-weight="normal" fill="#000" stroke="#000" stroke-width="0.3">0.3</text>
<text transform="translate(90.50,1372.50) scale(1.0400,1)" font-size="16.92" font-weight="normal" fill="#000" stroke="#000" stroke-width="0.3">0</text>
<text transform="translate(194.54,1372.50) scale(0.9300,1)" font-size="16.92" font-weight="normal" fill="#000" stroke="#000" stroke-width="0.3">100</text>
<text transform="translate(307.28,1372.50) scale(0.9300,1)" font-size="16.92" font-weight="normal" fill="#000" stroke="#000" stroke-width="0.3">200</text>
<text transform="translate(419.93,1372.50) scale(0.9300,1)" font-size="16.92" font-weight="normal" fill="#000" stroke="#000" stroke-width="0.3">300</text>
<text transform="translate(126.07,1147.70) scale(1.0528,1)" font-size="40.69" font-weight="normal" fill="#000">Brush</text>
<text transform="translate(29.80,1290.62) rotate(-90) scale(0.9802,1)" font-size="31.17" font-weight="normal" fill="#000">Probability</text>
<text transform="translate(123.31,1413.20) scale(1.0265,1)" font-size="30.62" font-weight="normal" fill="#000">Distribution</text>
<text transform="translate(284.17,1413.20) scale(1.0771,1)" font-size="31.28" font-weight="normal" fill="#000">of</text>
<text transform="translate(318.54,1413.20) scale(1.0168,1)" font-size="30.90" font-weight="normal" fill="#000">spikes</text>
<rect x="533.70" y="1283.78" width="2.44" height="70.52" fill="#1e1616" stroke="#000" stroke-width="0.5"/>
<rect x="536.14" y="1304.86" width="2.88" height="49.44" fill="#d62828" stroke="#3a0c0c" stroke-width="0.6"/>
<rect x="539.57" y="1262.70" width="2.44" height="91.60" fill="#1e1616" stroke="#000" stroke-width="0.5"/>
<rect x="542.01" y="1313.59" width="2.88" height="40.71" fill="#d62828" stroke="#3a0c0c" stroke-width="0.6"/>
<rect x="544.89" y="1269.24" width="2.66" height="85.06" fill="#1e1616" stroke="#000" stroke-width="0.5"/>
<rect x="547.55" y="1312.86" width="2.77" height="41.44" fill="#d62828" stroke="#3a0c0c" stroke-width="0.6"/>
<rect x="550.98" y="1293.96" width="2.33" height="60.34" fill="#1e1616" stroke="#000" stroke-width="0.5"/>
<rect x="553.31" y="1320.86" width="2.88" height="33.44" fill="#d62828" stroke="#3a0c0c" stroke-width="0.6"/>
<rect x="556.19" y="1309.95" width="2.44" height="44.35" fill="#1e1616" stroke="#000" stroke-width="0.5"/>
<rect x="558.62" y="1328.86" width="3.32" height="25.44" fill="#d62828" stroke="#3a0c0c" stroke-width="0.6"/>
<rect x="561.95" y="1319.40" width="2.44" height="34.90" fill="#1e1616" stroke="#000" stroke-width="0.5"/>
<rect x="564.38" y="1331.76" width="2.88" height="22.54" fill="#d62828" stroke="#3a0c0c" stroke-width="0.6"/>
<rect x="567.26" y="1316.50" width="2.44" height="37.80" fill="#1e1616" stroke="#000" stroke-width="0.5"/>
<rect x="569.70" y="1319.40" width="2.88" height="34.90" fill="#d62828" stroke="#3a0c0c" stroke-width="0.6"/>
<rect x="572.58" y="1323.77" width="2.44" height="30.53" fill="#1e1616" stroke="#000" stroke-width="0.5"/>
<rect x="575.46" y="1320.86" width="2.88" height="33.44" fill="#d62828" stroke="#3a0c0c" stroke-width="0.6"/>
<rect x="578.89" y="1323.77" width="1.88" height="30.53" fill="#1e1616" stroke="#000" stroke-width="0.5"/>
<rect x="580.78" y="1331.76" width="4.87" height="22.54" fill="#d62828" stroke="#3a0c0c" stroke-width="0.6"/>
<rect x="585.65" y="1334.67" width="1.88" height="19.63" fill="#1e1616" stroke="#000" stroke-width="0.5"/>
<rect x="587.53" y="1318.31" width="3.21" height="35.99" fill="#d62828" stroke="#3a0c0c" stroke-width="0.6"/>
<rect x="590.75" y="1334.67" width="1.88" height="19.63" fill="#1e1616" stroke="#000" stroke-width="0.5"/>
<rect x="592.63" y="1323.77" width="3.88" height="30.53" fill="#d62828" stroke="#3a0c0c" stroke-width="0.6"/>
<rect x="597.95" y="1327.40" width="2.33" height="26.90" fill="#1e1616" stroke="#000" stroke-width="0.5"/>
<rect x="600.27" y="1332.49" width="2.88" height="21.81" fill="#d62828" stroke="#3a0c0c" stroke-width="0.6"/>
<rect x="603.15" y="1335.40" width="2.88" height="18.90" fill="#d62828" stroke="#3a0c0c" stroke-width="0.6"/>
<rect x="606.81" y="1341.21" width="1.99" height="13.09" fill="#1e1616" stroke="#000" stroke-width="0.5"/>
<rect x="609.69" y="1329.58" width="2.88" height="24.72" fill="#d62828" stroke="#3a0c0c" stroke-width="0.6"/>
<rect x="614.12" y="1335.40" width="3.32" height="18.90" fill="#d62828" stroke="#3a0c0c" stroke-width="0.6"/>
<rect x="617.44" y="1345.58" width="1.99" height="8.72" fill="#1e1616" stroke="#000" stroke-width="0.5"/>
<rect x="619.99" y="1336.12" width="3.32" height="18.17" fill="#d62828" stroke="#3a0c0c" stroke-width="0.6"/>
<rect x="623.31" y="1343.39" width="2.44" height="10.90" fill="#1e1616" stroke="#000" stroke-width="0.5"/>
<rect x="625.75" y="1337.58" width="2.88" height="16.72" fill="#d62828" stroke="#3a0c0c" stroke-width="0.6"/>
<rect x="631.07" y="1341.21" width="2.88" height="13.09" fill="#1e1616" stroke="#000" stroke-width="0.5"/>
<rect x="633.95" y="1343.39" width="3.32" height="10.90" fill="#d62828" stroke="#3a0c0c" stroke-width="0.6"/>
<rect x="637.27" y="1332.49" width="2.44" height="21.81" fill="#1e1616" stroke="#000" stroke-width="0.5"/>
<rect x="639.71" y="1341.21" width="2.88" height="13.09" fill="#d62828" stroke="#3a0c0c" stroke-width="0.6"/>
<rect x="645.47" y="1340.49" width="2.88" height="13.81" fill="#d62828" stroke="#3a0c0c" stroke-width="0.6"/>
<rect x="649.23" y="1342.67" width="2.99" height="11.63" fill="#d62828" stroke="#3a0c0c" stroke-width="0.6"/>
<rect x="652.22" y="1347.03" width="2.22" height="7.27" fill="#1e1616" stroke="#000" stroke-width="0.5"/>
<rect x="654.99" y="1344.12" width="2.77" height="10.18" fill="#d62828" stroke="#3a0c0c" stroke-width="0.6"/>
<rect x="657.76" y="1348.48" width="2.22" height="5.82" fill="#1e1616" stroke="#000" stroke-width="0.5"/>
<rect x="660.53" y="1345.58" width="2.77" height="8.72" fill="#d62828" stroke="#3a0c0c" stroke-width="0.6"/>
<rect x="663.30" y="1349.21" width="2.22" height="5.09" fill="#1e1616" stroke="#000" stroke-width="0.5"/>
<rect x="666.07" y="1346.30" width="2.77" height="8.00" fill="#d62828" stroke="#3a0c0c" stroke-width="0.6"/>
<rect x="671.61" y="1347.03" width="2.77" height="7.27" fill="#d62828" stroke="#3a0c0c" stroke-width="0.6"/>
<rect x="674.38" y="1349.94" width="2.22" height="4.36" fill="#1e1616" stroke="#000" stroke-width="0.5"/>
<rect x="677.15" y="1348.48" width="2.77" height="5.82" fill="#d62828" stroke="#3a0c0c" stroke-width="0.6"/>
<rect x="682.69" y="1348.48" width="2.77" height="5.82" fill="#d62828" stroke="#3a0c0c" stroke-width="0.6"/>
<rect x="687.67" y="1350.66" width="2.22" height="3.63" fill="#1e1616" stroke="#000" stroke-width="0.5"/>
<rect x="690.44" y="1349.94" width="2.77" height="4.36" fill="#d62828" stroke="#3a0c0c" stroke-width="0.6"/>
<rect x="695.98" y="1350.66" width="2.77" height="3.63" fill="#d62828" stroke="#3a0c0c" stroke-width="0.6"/>
<rect x="702.07" y="1351.39" width="2.22" height="2.91" fill="#1e1616" stroke="#000" stroke-width="0.5"/>
<rect x="707.06" y="1351.39" width="2.77" height="2.91" fill="#d62828" stroke="#3a0c0c" stroke-width="0.6"/>
<rect x="815.06" y="1345.58" width="2.77" height="8.72" fill="#1e1616" stroke="#000" stroke-width="0.5"/>
<path d="M522.62,1320.13 C523.01,1319.53 523.58,1320.49 524.95,1316.50 C526.32,1312.50 528.90,1302.44 530.82,1296.14 C532.74,1289.84 534.55,1283.54 536.47,1278.69 C538.39,1273.85 540.09,1269.60 542.34,1267.06 C544.59,1264.52 547.75,1263.67 549.98,1263.42 C552.22,1263.18 553.82,1264.15 555.74,1265.61 C557.66,1267.06 559.58,1269.48 561.50,1272.15 C563.42,1274.81 565.34,1278.21 567.26,1281.60 C569.18,1284.99 571.10,1289.11 573.02,1292.50 C574.94,1295.90 576.84,1299.05 578.78,1301.96 C580.72,1304.86 582.40,1307.41 584.65,1309.95 C586.91,1312.50 589.42,1314.92 592.30,1317.22 C595.18,1319.53 598.74,1321.83 601.93,1323.77 C605.13,1325.70 608.25,1327.40 611.46,1328.86 C614.67,1330.31 617.98,1331.40 621.21,1332.49 C624.44,1333.58 627.65,1334.55 630.85,1335.40 C634.04,1336.25 637.18,1336.85 640.37,1337.58 C643.57,1338.31 646.61,1338.79 650.01,1339.76 C653.41,1340.73 653.65,1341.94 660.75,1343.39 C667.86,1344.85 682.04,1347.27 692.65,1348.48 C703.27,1349.70 708.48,1350.06 724.45,1350.66 C740.42,1351.27 764.88,1351.76 788.47,1352.12 C812.07,1352.48 853.09,1352.72 866.01,1352.85" fill="none" stroke="#000" stroke-width="3.3" stroke-linejoin="round"/>
<path d="M522.62,1333.22 C523.01,1332.97 522.96,1333.94 524.95,1331.76 C526.94,1329.58 531.37,1323.83 534.59,1320.13 C537.80,1316.44 541.03,1312.32 544.22,1309.59 C547.42,1306.86 550.54,1304.80 553.75,1303.77 C556.96,1302.74 560.27,1303.23 563.50,1303.41 C566.73,1303.59 569.94,1304.14 573.13,1304.86 C576.33,1305.59 579.47,1306.68 582.66,1307.77 C585.85,1308.86 589.09,1309.95 592.30,1311.41 C595.51,1312.86 598.74,1314.86 601.93,1316.50 C605.13,1318.13 608.25,1319.77 611.46,1321.22 C614.67,1322.68 617.98,1323.95 621.21,1325.22 C624.44,1326.49 627.65,1327.76 630.85,1328.86 C634.04,1329.95 637.18,1330.91 640.37,1331.76 C643.57,1332.61 646.61,1332.85 650.01,1333.94 C653.41,1335.03 654.70,1336.85 660.75,1338.31 C666.81,1339.76 677.85,1341.46 686.34,1342.67 C694.83,1343.88 700.04,1344.85 711.71,1345.58 C723.38,1346.30 740.97,1346.55 756.35,1347.03 C771.73,1347.51 788.10,1347.88 803.98,1348.48 C819.86,1349.09 841.27,1350.06 851.61,1350.66 C861.95,1351.27 863.61,1351.88 866.01,1352.12" fill="none" stroke="#b80a0a" stroke-width="3.3" stroke-linejoin="round"/>
<line x1="522.60" y1="1099.50" x2="522.60" y2="1355.30" stroke="#000" stroke-width="2.1"/>
<line x1="521.60" y1="1354.30" x2="867.01" y2="1354.30" stroke="#000" stroke-width="2.1"/>
<line x1="518.60" y1="1354.30" x2="522.60" y2="1354.30" stroke="#000" stroke-width="2"/>
<line x1="518.60" y1="1281.60" x2="522.60" y2="1281.60" stroke="#000" stroke-width="2"/>
<line x1="518.60" y1="1208.90" x2="522.60" y2="1208.90" stroke="#000" stroke-width="2"/>
<line x1="518.60" y1="1136.20" x2="522.60" y2="1136.20" stroke="#000" stroke-width="2"/>
<line x1="520.10" y1="1317.95" x2="522.60" y2="1317.95" stroke="#000" stroke-width="1.6"/>
<line x1="520.10" y1="1245.25" x2="522.60" y2="1245.25" stroke="#000" stroke-width="1.6"/>
<line x1="520.10" y1="1172.55" x2="522.60" y2="1172.55" stroke="#000" stroke-width="1.6"/>
<line x1="533.70" y1="1354.30" x2="533.70" y2="1358.30" stroke="#000" stroke-width="2"/>
<line x1="644.47" y1="1354.30" x2="644.47" y2="1358.30" stroke="#000" stroke-width="2"/>
<line x1="755.24" y1="1354.30" x2="755.24" y2="1358.30" stroke="#000" stroke-width="2"/>
<line x1="866.01" y1="1354.30" x2="866.01" y2="1358.30" stroke="#000" stroke-width="2"/>
<line x1="589.09" y1="1354.30" x2="589.09" y2="1356.80" stroke="#000" stroke-width="1.6"/>
<line x1="699.86" y1="1354.30" x2="699.86" y2="1356.80" stroke="#000" stroke-width="1.6"/>
<line x1="810.62" y1="1354.30" x2="810.62" y2="1356.80" stroke="#000" stroke-width="1.6"/>
<text transform="translate(492.65,1358.90) scale(0.9700,1)" font-size="17.49" font-weight="normal" fill="#000" stroke="#000" stroke-width="0.3">0.0</text>
<text transform="translate(492.82,1286.20) scale(0.9700,1)" font-size="17.49" font-weight="normal" fill="#000" stroke="#000" stroke-width="0.3">0.1</text>
<text transform="translate(492.87,1213.50) scale(0.9700,1)" font-size="17.49" font-weight="normal" fill="#000" stroke="#000" stroke-width="0.3">0.2</text>
<text transform="translate(492.74,1140.80) scale(0.9700,1)" font-size="17.49" font-weight="normal" fill="#000" stroke="#000" stroke-width="0.3">0.3</text>
<text transform="translate(528.00,1372.80) scale(1.0400,1)" font-size="16.92" font-weight="normal" fill="#000" stroke="#000" stroke-width="0.3">0</text>
<text transform="translate(630.26,1372.80) scale(0.9300,1)" font-size="16.92" font-weight="normal" fill="#000" stroke="#000" stroke-width="0.3">100</text>
<text transform="translate(741.22,1372.80) scale(0.9300,1)" font-size="16.92" font-weight="normal" fill="#000" stroke="#000" stroke-width="0.3">200</text>
<text transform="translate(852.09,1372.80) scale(0.9300,1)" font-size="16.92" font-weight="normal" fill="#000" stroke="#000" stroke-width="0.3">300</text>
<text transform="translate(552.31,1147.70) scale(0.9857,1)" font-size="42.91" font-weight="normal" fill="#000">Press</text>
<text transform="translate(535.81,1412.80) scale(1.0265,1)" font-size="30.62" font-weight="normal" fill="#000">Distribution</text>
<text transform="translate(696.67,1412.80) scale(1.0771,1)" font-size="31.28" font-weight="normal" fill="#000">of</text>
<text transform="translate(731.04,1412.80) scale(1.0168,1)" font-size="30.90" font-weight="normal" fill="#000">spikes</text>
<rect x="971.53" y="1293.78" width="1.96" height="57.12" fill="#1e1616" stroke="#000" stroke-width="0.5"/>
<rect x="973.48" y="1305.92" width="3.37" height="44.98" fill="#d62828" stroke="#3a0c0c" stroke-width="0.6"/>
<rect x="977.07" y="1252.73" width="2.17" height="98.17" fill="#1e1616" stroke="#000" stroke-width="0.5"/>
<rect x="979.24" y="1306.63" width="2.83" height="44.27" fill="#d62828" stroke="#3a0c0c" stroke-width="0.6"/>
<rect x="982.07" y="1289.50" width="3.15" height="61.40" fill="#1e1616" stroke="#000" stroke-width="0.5"/>
<rect x="985.22" y="1312.34" width="2.72" height="38.56" fill="#d62828" stroke="#3a0c0c" stroke-width="0.6"/>
<rect x="987.72" y="1295.21" width="3.04" height="55.69" fill="#1e1616" stroke="#000" stroke-width="0.5"/>
<rect x="990.65" y="1316.63" width="3.04" height="34.27" fill="#d62828" stroke="#3a0c0c" stroke-width="0.6"/>
<rect x="993.70" y="1306.63" width="1.85" height="44.27" fill="#1e1616" stroke="#000" stroke-width="0.5"/>
<rect x="995.54" y="1329.48" width="2.93" height="21.42" fill="#d62828" stroke="#3a0c0c" stroke-width="0.6"/>
<rect x="998.91" y="1314.49" width="2.39" height="36.41" fill="#1e1616" stroke="#000" stroke-width="0.5"/>
<rect x="1001.30" y="1329.48" width="2.39" height="21.42" fill="#d62828" stroke="#3a0c0c" stroke-width="0.6"/>
<rect x="1003.70" y="1320.48" width="2.72" height="30.42" fill="#1e1616" stroke="#000" stroke-width="0.5"/>
<rect x="1006.41" y="1322.34" width="3.15" height="28.56" fill="#d62828" stroke="#3a0c0c" stroke-width="0.6"/>
<rect x="1009.56" y="1318.98" width="2.93" height="31.92" fill="#1e1616" stroke="#000" stroke-width="0.5"/>
<rect x="1012.50" y="1329.48" width="2.61" height="21.42" fill="#d62828" stroke="#3a0c0c" stroke-width="0.6"/>
<rect x="1015.11" y="1326.62" width="2.39" height="24.28" fill="#1e1616" stroke="#000" stroke-width="0.5"/>
<rect x="1017.50" y="1323.05" width="3.37" height="27.85" fill="#d62828" stroke="#3a0c0c" stroke-width="0.6"/>
<rect x="1021.19" y="1326.62" width="2.39" height="24.28" fill="#1e1616" stroke="#000" stroke-width="0.5"/>
<rect x="1023.58" y="1333.05" width="2.61" height="17.85" fill="#d62828" stroke="#3a0c0c" stroke-width="0.6"/>
<rect x="1026.19" y="1329.48" width="2.17" height="21.42" fill="#1e1616" stroke="#000" stroke-width="0.5"/>
<rect x="1028.37" y="1331.62" width="3.37" height="19.28" fill="#d62828" stroke="#3a0c0c" stroke-width="0.6"/>
<rect x="1031.73" y="1326.62" width="2.39" height="24.28" fill="#1e1616" stroke="#000" stroke-width="0.5"/>
<rect x="1034.13" y="1335.19" width="2.83" height="15.71" fill="#d62828" stroke="#3a0c0c" stroke-width="0.6"/>
<rect x="1036.95" y="1331.62" width="2.39" height="19.28" fill="#1e1616" stroke="#000" stroke-width="0.5"/>
<rect x="1039.34" y="1335.91" width="2.50" height="14.99" fill="#d62828" stroke="#3a0c0c" stroke-width="0.6"/>
<rect x="1042.71" y="1326.27" width="2.39" height="24.63" fill="#1e1616" stroke="#000" stroke-width="0.5"/>
<rect x="1045.10" y="1343.76" width="2.50" height="7.14" fill="#d62828" stroke="#3a0c0c" stroke-width="0.6"/>
<rect x="1047.60" y="1335.91" width="2.39" height="14.99" fill="#1e1616" stroke="#000" stroke-width="0.5"/>
<rect x="1049.99" y="1335.19" width="2.83" height="15.71" fill="#d62828" stroke="#3a0c0c" stroke-width="0.6"/>
<rect x="1052.82" y="1336.62" width="2.39" height="14.28" fill="#1e1616" stroke="#000" stroke-width="0.5"/>
<rect x="1055.21" y="1330.91" width="3.37" height="19.99" fill="#d62828" stroke="#3a0c0c" stroke-width="0.6"/>
<rect x="1058.58" y="1335.91" width="1.96" height="14.99" fill="#1e1616" stroke="#000" stroke-width="0.5"/>
<rect x="1060.53" y="1331.62" width="3.37" height="19.28" fill="#d62828" stroke="#3a0c0c" stroke-width="0.6"/>
<rect x="1063.90" y="1336.62" width="1.85" height="14.28" fill="#1e1616" stroke="#000" stroke-width="0.5"/>
<rect x="1065.75" y="1335.91" width="3.37" height="14.99" fill="#d62828" stroke="#3a0c0c" stroke-width="0.6"/>
<rect x="1071.51" y="1336.62" width="2.83" height="14.28" fill="#1e1616" stroke="#000" stroke-width="0.5"/>
<rect x="1076.29" y="1339.48" width="3.91" height="11.42" fill="#d62828" stroke="#3a0c0c" stroke-width="0.6"/>
<rect x="1080.21" y="1342.33" width="2.39" height="8.57" fill="#1e1616" stroke="#000" stroke-width="0.5"/>
<rect x="1082.60" y="1340.90" width="3.26" height="10.00" fill="#d62828" stroke="#3a0c0c" stroke-width="0.6"/>
<rect x="1085.86" y="1342.33" width="2.17" height="8.57" fill="#1e1616" stroke="#000" stroke-width="0.5"/>
<rect x="1088.03" y="1340.19" width="3.26" height="10.71" fill="#d62828" stroke="#3a0c0c" stroke-width="0.6"/>
<rect x="1091.83" y="1343.76" width="2.17" height="7.14" fill="#1e1616" stroke="#000" stroke-width="0.5"/>
<rect x="1094.01" y="1336.62" width="3.26" height="14.28" fill="#d62828" stroke="#3a0c0c" stroke-width="0.6"/>
<rect x="1097.27" y="1344.47" width="2.17" height="6.43" fill="#1e1616" stroke="#000" stroke-width="0.5"/>
<rect x="1099.44" y="1340.90" width="3.26" height="10.00" fill="#d62828" stroke="#3a0c0c" stroke-width="0.6"/>
<rect x="1102.70" y="1345.19" width="2.17" height="5.71" fill="#1e1616" stroke="#000" stroke-width="0.5"/>
<rect x="1104.88" y="1341.62" width="3.26" height="9.28" fill="#d62828" stroke="#3a0c0c" stroke-width="0.6"/>
<rect x="1108.14" y="1345.19" width="2.17" height="5.71" fill="#1e1616" stroke="#000" stroke-width="0.5"/>
<rect x="1110.31" y="1342.33" width="3.26" height="8.57" fill="#d62828" stroke="#3a0c0c" stroke-width="0.6"/>
<rect x="1113.57" y="1345.90" width="2.17" height="5.00" fill="#1e1616" stroke="#000" stroke-width="0.5"/>
<rect x="1115.74" y="1342.33" width="3.26" height="8.57" fill="#d62828" stroke="#3a0c0c" stroke-width="0.6"/>
<rect x="1119.00" y="1346.62" width="2.17" height="4.28" fill="#1e1616" stroke="#000" stroke-width="0.5"/>
<rect x="1121.18" y="1343.05" width="3.26" height="7.85" fill="#d62828" stroke="#3a0c0c" stroke-width="0.6"/>
<rect x="1124.44" y="1346.62" width="2.17" height="4.28" fill="#1e1616" stroke="#000" stroke-width="0.5"/>
<rect x="1126.61" y="1343.76" width="3.26" height="7.14" fill="#d62828" stroke="#3a0c0c" stroke-width="0.6"/>
<rect x="1129.87" y="1347.33" width="2.17" height="3.57" fill="#1e1616" stroke="#000" stroke-width="0.5"/>
<rect x="1132.05" y="1343.76" width="3.26" height="7.14" fill="#d62828" stroke="#3a0c0c" stroke-width="0.6"/>
<rect x="1135.31" y="1336.62" width="2.17" height="14.28" fill="#1e1616" stroke="#000" stroke-width="0.5"/>
<rect x="1137.48" y="1344.47" width="3.26" height="6.43" fill="#d62828" stroke="#3a0c0c" stroke-width="0.6"/>
<rect x="1140.74" y="1347.33" width="2.17" height="3.57" fill="#1e1616" stroke="#000" stroke-width="0.5"/>
<rect x="1142.91" y="1345.19" width="3.26" height="5.71" fill="#d62828" stroke="#3a0c0c" stroke-width="0.6"/>
<rect x="1146.17" y="1348.04" width="2.17" height="2.86" fill="#1e1616" stroke="#000" stroke-width="0.5"/>
<rect x="1148.35" y="1345.19" width="3.26" height="5.71" fill="#d62828" stroke="#3a0c0c" stroke-width="0.6"/>
<rect x="1151.61" y="1348.04" width="2.17" height="2.86" fill="#1e1616" stroke="#000" stroke-width="0.5"/>
<rect x="1153.78" y="1345.90" width="3.26" height="5.00" fill="#d62828" stroke="#3a0c0c" stroke-width="0.6"/>
<rect x="1157.04" y="1348.04" width="2.17" height="2.86" fill="#1e1616" stroke="#000" stroke-width="0.5"/>
<rect x="1159.22" y="1346.62" width="3.26" height="4.28" fill="#d62828" stroke="#3a0c0c" stroke-width="0.6"/>
<rect x="1164.65" y="1347.33" width="3.26" height="3.57" fill="#d62828" stroke="#3a0c0c" stroke-width="0.6"/>
<rect x="1170.08" y="1347.33" width="3.26" height="3.57" fill="#d62828" stroke="#3a0c0c" stroke-width="0.6"/>
<rect x="1175.52" y="1348.76" width="2.17" height="2.14" fill="#1e1616" stroke="#000" stroke-width="0.5"/>
<rect x="1180.95" y="1348.76" width="3.26" height="2.14" fill="#d62828" stroke="#3a0c0c" stroke-width="0.6"/>
<rect x="1232.03" y="1348.04" width="3.26" height="2.86" fill="#d62828" stroke="#3a0c0c" stroke-width="0.6"/>
<rect x="1255.94" y="1348.76" width="2.17" height="2.14" fill="#1e1616" stroke="#000" stroke-width="0.5"/>
<path d="M960.33,1305.92 C961.24,1302.71 963.90,1291.52 965.77,1286.64 C967.63,1281.76 969.28,1280.33 971.53,1276.64 C973.77,1272.95 977.00,1267.72 979.24,1264.51 C981.49,1261.29 983.08,1259.03 985.00,1257.37 C986.92,1255.70 988.84,1254.81 990.76,1254.51 C992.68,1254.21 994.60,1254.45 996.52,1255.58 C998.44,1256.71 1000.36,1259.06 1002.28,1261.29 C1004.20,1263.53 1006.12,1266.45 1008.04,1269.00 C1009.96,1271.56 1011.88,1273.91 1013.80,1276.64 C1015.72,1279.38 1017.32,1282.33 1019.56,1285.43 C1021.81,1288.52 1024.38,1291.84 1027.28,1295.21 C1030.18,1298.58 1033.75,1302.47 1036.95,1305.63 C1040.16,1308.80 1043.31,1311.65 1046.52,1314.20 C1049.72,1316.75 1052.98,1318.90 1056.19,1320.91 C1059.39,1322.92 1062.55,1324.82 1065.75,1326.27 C1068.96,1327.72 1072.22,1328.73 1075.42,1329.62 C1078.63,1330.52 1080.80,1330.34 1084.99,1331.62 C1089.17,1332.91 1095.15,1335.55 1100.53,1337.33 C1105.91,1339.12 1110.56,1340.90 1117.27,1342.33 C1123.97,1343.76 1132.35,1345.07 1140.74,1345.90 C1149.13,1346.74 1157.62,1346.97 1167.58,1347.33 C1177.55,1347.69 1189.41,1347.81 1200.51,1348.04 C1211.62,1348.28 1218.27,1348.52 1234.21,1348.76 C1250.15,1349.00 1285.83,1349.35 1296.15,1349.47" fill="none" stroke="#000" stroke-width="3.3" stroke-linejoin="round"/>
<path d="M960.33,1327.70 C961.24,1326.56 963.90,1323.11 965.77,1320.91 C967.63,1318.71 970.10,1316.39 971.53,1314.49 C972.96,1312.58 973.14,1311.04 974.35,1309.49 C975.57,1307.94 977.20,1306.16 978.81,1305.20 C980.42,1304.25 981.87,1304.19 984.02,1303.78 C986.18,1303.36 988.86,1302.71 991.74,1302.71 C994.62,1302.71 998.59,1303.12 1001.30,1303.78 C1004.02,1304.43 1005.31,1305.56 1008.04,1306.63 C1010.78,1307.70 1014.51,1308.77 1017.72,1310.20 C1020.92,1311.63 1024.07,1313.74 1027.28,1315.20 C1030.48,1316.66 1033.75,1317.87 1036.95,1318.98 C1040.16,1320.10 1043.31,1321.17 1046.52,1321.91 C1049.72,1322.65 1052.98,1322.93 1056.19,1323.41 C1059.39,1323.89 1062.55,1324.35 1065.75,1324.77 C1068.96,1325.18 1072.22,1325.60 1075.42,1325.91 C1078.63,1326.22 1080.80,1326.15 1084.99,1326.62 C1089.17,1327.10 1095.04,1328.17 1100.53,1328.77 C1106.02,1329.36 1112.30,1329.72 1117.92,1330.19 C1123.53,1330.67 1129.33,1331.27 1134.22,1331.62 C1139.11,1331.98 1142.28,1331.62 1147.26,1332.34 C1152.24,1333.05 1158.51,1334.48 1164.11,1335.91 C1169.70,1337.33 1175.83,1339.71 1180.84,1340.90 C1185.86,1342.09 1188.07,1342.51 1194.21,1343.05 C1200.35,1343.58 1208.21,1344.00 1217.69,1344.12 C1227.16,1344.24 1242.68,1343.82 1251.05,1343.76 C1259.42,1343.70 1262.37,1343.40 1267.90,1343.76 C1273.42,1344.12 1279.49,1345.31 1284.20,1345.90 C1288.91,1346.50 1294.16,1347.09 1296.15,1347.33" fill="none" stroke="#b80a0a" stroke-width="3.3" stroke-linejoin="round"/>
<line x1="960.30" y1="1101.70" x2="960.30" y2="1351.90" stroke="#000" stroke-width="2.1"/>
<line x1="959.30" y1="1350.90" x2="1298.24" y2="1350.90" stroke="#000" stroke-width="2.1"/>
<line x1="956.30" y1="1350.90" x2="960.30" y2="1350.90" stroke="#000" stroke-width="2"/>
<line x1="956.30" y1="1279.50" x2="960.30" y2="1279.50" stroke="#000" stroke-width="2"/>
<line x1="956.30" y1="1208.10" x2="960.30" y2="1208.10" stroke="#000" stroke-width="2"/>
<line x1="956.30" y1="1136.70" x2="960.30" y2="1136.70" stroke="#000" stroke-width="2"/>
<line x1="957.80" y1="1315.20" x2="960.30" y2="1315.20" stroke="#000" stroke-width="1.6"/>
<line x1="957.80" y1="1243.80" x2="960.30" y2="1243.80" stroke="#000" stroke-width="1.6"/>
<line x1="957.80" y1="1172.40" x2="960.30" y2="1172.40" stroke="#000" stroke-width="1.6"/>
<line x1="971.20" y1="1350.90" x2="971.20" y2="1354.90" stroke="#000" stroke-width="2"/>
<line x1="1079.88" y1="1350.90" x2="1079.88" y2="1354.90" stroke="#000" stroke-width="2"/>
<line x1="1188.56" y1="1350.90" x2="1188.56" y2="1354.90" stroke="#000" stroke-width="2"/>
<line x1="1297.24" y1="1350.90" x2="1297.24" y2="1354.90" stroke="#000" stroke-width="2"/>
<line x1="1025.54" y1="1350.90" x2="1025.54" y2="1353.40" stroke="#000" stroke-width="1.6"/>
<line x1="1134.22" y1="1350.90" x2="1134.22" y2="1353.40" stroke="#000" stroke-width="1.6"/>
<line x1="1242.90" y1="1350.90" x2="1242.90" y2="1353.40" stroke="#000" stroke-width="1.6"/>
<text transform="translate(930.35,1355.50) scale(0.9700,1)" font-size="17.49" font-weight="normal" fill="#000" stroke="#000" stroke-width="0.3">0.0</text>
<text transform="translate(930.52,1284.10) scale(0.9700,1)" font-size="17.49" font-weight="normal" fill="#000" stroke="#000" stroke-width="0.3">0.1</text>
<text transform="translate(930.57,1212.70) scale(0.9700,1)" font-size="17.49" font-weight="normal" fill="#000" stroke="#000" stroke-width="0.3">0.2</text>
<text transform="translate(930.44,1141.30) scale(0.9700,1)" font-size="17.49" font-weight="normal" fill="#000" stroke="#000" stroke-width="0.3">0.3</text>
<text transform="translate(965.50,1369.40) scale(1.0400,1)" font-size="16.92" font-weight="normal" fill="#000" stroke="#000" stroke-width="0.3">0</text>
<text transform="translate(1065.67,1369.40) scale(0.9300,1)" font-size="16.92" font-weight="normal" fill="#000" stroke="#000" stroke-width="0.3">100</text>
<text transform="translate(1174.54,1369.40) scale(0.9300,1)" font-size="16.92" font-weight="normal" fill="#000" stroke="#000" stroke-width="0.3">200</text>
<text transform="translate(1283.32,1369.40) scale(0.9300,1)" font-size="16.92" font-weight="normal" fill="#000" stroke="#000" stroke-width="0.3">300</text>
<text transform="translate(983.49,1147.70) scale(1.0362,1)" font-size="41.10" font-weight="normal" fill="#000">Pinch</text>
<text transform="translate(1212.78,1287.30) scale(1.0024,1)" font-size="44.22" font-weight="normal" fill="#000">WDR</text>
<rect x="1211.90" y="1090.90" width="35.90" height="18.90" fill="#000"/>
<g clip-path="url(#clip1211_1090)">
<clipPath id="clip1211_1090"><rect x="1211.9" y="1090.9" width="35.899999999999864" height="18.899999999999864"/></clipPath>
<line x1="1191.9" y1="1109.8" x2="1210.8" y2="1090.9" stroke="#555" stroke-width="0.8"/>
<line x1="1197.2" y1="1109.8" x2="1216.1" y2="1090.9" stroke="#555" stroke-width="0.8"/>
<line x1="1202.5" y1="1109.8" x2="1221.4" y2="1090.9" stroke="#555" stroke-width="0.8"/>
<line x1="1207.8" y1="1109.8" x2="1226.7" y2="1090.9" stroke="#555" stroke-width="0.8"/>
<line x1="1213.1" y1="1109.8" x2="1232.0" y2="1090.9" stroke="#555" stroke-width="0.8"/>
<line x1="1218.4" y1="1109.8" x2="1237.3" y2="1090.9" stroke="#555" stroke-width="0.8"/>
<line x1="1223.7" y1="1109.8" x2="1242.6" y2="1090.9" stroke="#555" stroke-width="0.8"/>
<line x1="1229.0" y1="1109.8" x2="1247.9" y2="1090.9" stroke="#555" stroke-width="0.8"/>
<line x1="1234.3" y1="1109.8" x2="1253.2" y2="1090.9" stroke="#555" stroke-width="0.8"/>
<line x1="1239.6" y1="1109.8" x2="1258.5" y2="1090.9" stroke="#555" stroke-width="0.8"/>
<line x1="1244.9" y1="1109.8" x2="1263.8" y2="1090.9" stroke="#555" stroke-width="0.8"/>
<line x1="1250.2" y1="1109.8" x2="1269.1" y2="1090.9" stroke="#555" stroke-width="0.8"/>
<line x1="1255.5" y1="1109.8" x2="1274.4" y2="1090.9" stroke="#555" stroke-width="0.8"/>
<line x1="1260.8" y1="1109.8" x2="1279.7" y2="1090.9" stroke="#555" stroke-width="0.8"/>
<line x1="1266.1" y1="1109.8" x2="1285.0" y2="1090.9" stroke="#555" stroke-width="0.8"/>
</g>
<rect x="1211.90" y="1116.00" width="35.90" height="17.90" fill="#f01414" stroke="#5a0c0c" stroke-width="1"/>
<g clip-path="url(#clipr1211_1116)">
<clipPath id="clipr1211_1116"><rect x="1212.4" y="1116.5" width="34.899999999999864" height="16.90000000000009"/></clipPath>
<line x1="1191.9" y1="1116.0" x2="1209.8" y2="1133.9" stroke="#9a2c2c" stroke-width="1.5" stroke-dasharray="1.6,1.6"/>
<line x1="1195.5" y1="1116.0" x2="1213.4" y2="1133.9" stroke="#9a2c2c" stroke-width="1.5" stroke-dasharray="1.6,1.6"/>
<line x1="1199.1" y1="1116.0" x2="1217.0" y2="1133.9" stroke="#9a2c2c" stroke-width="1.5" stroke-dasharray="1.6,1.6"/>
<line x1="1202.7" y1="1116.0" x2="1220.6" y2="1133.9" stroke="#9a2c2c" stroke-width="1.5" stroke-dasharray="1.6,1.6"/>
<line x1="1206.3" y1="1116.0" x2="1224.2" y2="1133.9" stroke="#9a2c2c" stroke-width="1.5" stroke-dasharray="1.6,1.6"/>
<line x1="1209.9" y1="1116.0" x2="1227.8" y2="1133.9" stroke="#9a2c2c" stroke-width="1.5" stroke-dasharray="1.6,1.6"/>
<line x1="1213.5" y1="1116.0" x2="1231.4" y2="1133.9" stroke="#9a2c2c" stroke-width="1.5" stroke-dasharray="1.6,1.6"/>
<line x1="1217.1" y1="1116.0" x2="1235.0" y2="1133.9" stroke="#9a2c2c" stroke-width="1.5" stroke-dasharray="1.6,1.6"/>
<line x1="1220.7" y1="1116.0" x2="1238.6" y2="1133.9" stroke="#9a2c2c" stroke-width="1.5" stroke-dasharray="1.6,1.6"/>
<line x1="1224.3" y1="1116.0" x2="1242.2" y2="1133.9" stroke="#9a2c2c" stroke-width="1.5" stroke-dasharray="1.6,1.6"/>
<line x1="1227.9" y1="1116.0" x2="1245.8" y2="1133.9" stroke="#9a2c2c" stroke-width="1.5" stroke-dasharray="1.6,1.6"/>
<line x1="1231.5" y1="1116.0" x2="1249.4" y2="1133.9" stroke="#9a2c2c" stroke-width="1.5" stroke-dasharray="1.6,1.6"/>
<line x1="1235.1" y1="1116.0" x2="1253.0" y2="1133.9" stroke="#9a2c2c" stroke-width="1.5" stroke-dasharray="1.6,1.6"/>
<line x1="1238.7" y1="1116.0" x2="1256.6" y2="1133.9" stroke="#9a2c2c" stroke-width="1.5" stroke-dasharray="1.6,1.6"/>
<line x1="1242.3" y1="1116.0" x2="1260.2" y2="1133.9" stroke="#9a2c2c" stroke-width="1.5" stroke-dasharray="1.6,1.6"/>
<line x1="1245.9" y1="1116.0" x2="1263.8" y2="1133.9" stroke="#9a2c2c" stroke-width="1.5" stroke-dasharray="1.6,1.6"/>
<line x1="1249.5" y1="1116.0" x2="1267.4" y2="1133.9" stroke="#9a2c2c" stroke-width="1.5" stroke-dasharray="1.6,1.6"/>
<line x1="1253.1" y1="1116.0" x2="1271.0" y2="1133.9" stroke="#9a2c2c" stroke-width="1.5" stroke-dasharray="1.6,1.6"/>
<line x1="1256.7" y1="1116.0" x2="1274.6" y2="1133.9" stroke="#9a2c2c" stroke-width="1.5" stroke-dasharray="1.6,1.6"/>
<line x1="1260.3" y1="1116.0" x2="1278.2" y2="1133.9" stroke="#9a2c2c" stroke-width="1.5" stroke-dasharray="1.6,1.6"/>
<line x1="1263.9" y1="1116.0" x2="1281.8" y2="1133.9" stroke="#9a2c2c" stroke-width="1.5" stroke-dasharray="1.6,1.6"/>
<line x1="1267.5" y1="1116.0" x2="1285.4" y2="1133.9" stroke="#9a2c2c" stroke-width="1.5" stroke-dasharray="1.6,1.6"/>
</g>
<text transform="translate(1250.74,1105.00) scale(1.0691,1)" font-size="15.77" font-weight="normal" fill="#000">ITS</text>
<text transform="translate(1250.74,1130.80) scale(0.9945,1)" font-size="16.92" font-weight="normal" fill="#000">ITC</text>
<text transform="translate(982.71,1412.70) scale(1.0265,1)" font-size="30.62" font-weight="normal" fill="#000">Distribution</text>
<text transform="translate(1143.57,1412.70) scale(1.0771,1)" font-size="31.28" font-weight="normal" fill="#000">of</text>
<text transform="translate(1177.94,1412.70) scale(1.0168,1)" font-size="30.90" font-weight="normal" fill="#000">spikes</text>
<rect x="966.00" y="1567.37" width="3.25" height="135.23" fill="#1e1616" stroke="#000" stroke-width="0.5"/>
<rect x="969.25" y="1596.64" width="2.35" height="105.96" fill="#d62828" stroke="#3a0c0c" stroke-width="0.6"/>
<rect x="971.60" y="1584.04" width="2.35" height="118.56" fill="#1e1616" stroke="#000" stroke-width="0.5"/>
<rect x="973.95" y="1649.99" width="3.58" height="52.61" fill="#d62828" stroke="#3a0c0c" stroke-width="0.6"/>
<rect x="977.54" y="1619.61" width="2.80" height="82.99" fill="#1e1616" stroke="#000" stroke-width="0.5"/>
<rect x="980.34" y="1660.36" width="3.02" height="42.24" fill="#d62828" stroke="#3a0c0c" stroke-width="0.6"/>
<rect x="983.36" y="1627.02" width="2.69" height="75.58" fill="#1e1616" stroke="#000" stroke-width="0.5"/>
<rect x="986.05" y="1577.37" width="2.69" height="125.23" fill="#d62828" stroke="#3a0c0c" stroke-width="0.6"/>
<rect x="988.74" y="1645.54" width="2.35" height="57.06" fill="#1e1616" stroke="#000" stroke-width="0.5"/>
<rect x="991.09" y="1650.73" width="2.91" height="51.87" fill="#d62828" stroke="#3a0c0c" stroke-width="0.6"/>
<rect x="994.01" y="1652.21" width="2.24" height="50.39" fill="#1e1616" stroke="#000" stroke-width="0.5"/>
<rect x="996.25" y="1650.73" width="4.03" height="51.87" fill="#d62828" stroke="#3a0c0c" stroke-width="0.6"/>
<rect x="1000.28" y="1668.51" width="1.68" height="34.09" fill="#1e1616" stroke="#000" stroke-width="0.5"/>
<rect x="1001.96" y="1650.73" width="3.92" height="51.87" fill="#d62828" stroke="#3a0c0c" stroke-width="0.6"/>
<rect x="1005.88" y="1682.59" width="2.24" height="20.01" fill="#1e1616" stroke="#000" stroke-width="0.5"/>
<rect x="1011.26" y="1676.66" width="2.69" height="25.93" fill="#1e1616" stroke="#000" stroke-width="0.5"/>
<rect x="1013.95" y="1681.85" width="3.14" height="20.75" fill="#d62828" stroke="#3a0c0c" stroke-width="0.6"/>
<rect x="1017.09" y="1687.78" width="2.58" height="14.82" fill="#1e1616" stroke="#000" stroke-width="0.5"/>
<rect x="1022.35" y="1695.19" width="1.79" height="7.41" fill="#1e1616" stroke="#000" stroke-width="0.5"/>
<rect x="1024.59" y="1682.59" width="3.58" height="20.01" fill="#d62828" stroke="#3a0c0c" stroke-width="0.6"/>
<rect x="1028.18" y="1687.78" width="2.69" height="14.82" fill="#1e1616" stroke="#000" stroke-width="0.5"/>
<rect x="1033.89" y="1680.37" width="2.24" height="22.23" fill="#1e1616" stroke="#000" stroke-width="0.5"/>
<rect x="1036.13" y="1693.71" width="2.69" height="8.89" fill="#d62828" stroke="#3a0c0c" stroke-width="0.6"/>
<rect x="1038.82" y="1695.19" width="2.24" height="7.41" fill="#1e1616" stroke="#000" stroke-width="0.5"/>
<rect x="1041.06" y="1693.71" width="3.36" height="8.89" fill="#d62828" stroke="#3a0c0c" stroke-width="0.6"/>
<rect x="1044.42" y="1696.67" width="2.24" height="5.93" fill="#1e1616" stroke="#000" stroke-width="0.5"/>
<rect x="1046.66" y="1695.19" width="3.36" height="7.41" fill="#d62828" stroke="#3a0c0c" stroke-width="0.6"/>
<rect x="1052.60" y="1671.48" width="3.58" height="31.12" fill="#d62828" stroke="#3a0c0c" stroke-width="0.6"/>
<rect x="1058.98" y="1693.71" width="2.24" height="8.89" fill="#1e1616" stroke="#000" stroke-width="0.5"/>
<rect x="1062.35" y="1696.67" width="2.80" height="5.93" fill="#d62828" stroke="#3a0c0c" stroke-width="0.6"/>
<rect x="1069.07" y="1693.71" width="4.48" height="8.89" fill="#d62828" stroke="#3a0c0c" stroke-width="0.6"/>
<rect x="1075.79" y="1698.89" width="2.24" height="3.70" fill="#1e1616" stroke="#000" stroke-width="0.5"/>
<rect x="1091.47" y="1684.07" width="2.80" height="18.53" fill="#d62828" stroke="#3a0c0c" stroke-width="0.6"/>
<rect x="1097.08" y="1684.07" width="2.80" height="18.53" fill="#d62828" stroke="#3a0c0c" stroke-width="0.6"/>
<rect x="1106.04" y="1698.89" width="2.24" height="3.70" fill="#1e1616" stroke="#000" stroke-width="0.5"/>
<rect x="1119.48" y="1693.71" width="2.80" height="8.89" fill="#d62828" stroke="#3a0c0c" stroke-width="0.6"/>
<rect x="1129.56" y="1698.15" width="2.24" height="4.45" fill="#1e1616" stroke="#000" stroke-width="0.5"/>
<rect x="1141.89" y="1684.07" width="2.80" height="18.53" fill="#d62828" stroke="#3a0c0c" stroke-width="0.6"/>
<rect x="1145.25" y="1691.48" width="2.24" height="11.12" fill="#1e1616" stroke="#000" stroke-width="0.5"/>
<rect x="1156.45" y="1695.19" width="2.24" height="7.41" fill="#1e1616" stroke="#000" stroke-width="0.5"/>
<rect x="1167.65" y="1698.15" width="2.80" height="4.45" fill="#d62828" stroke="#3a0c0c" stroke-width="0.6"/>
<rect x="1184.46" y="1695.19" width="2.80" height="7.41" fill="#1e1616" stroke="#000" stroke-width="0.5"/>
<path d="M954.57,1655.92 C955.79,1648.63 959.41,1624.42 961.85,1612.20 C964.30,1599.97 966.50,1589.97 969.25,1582.56 C971.99,1575.15 975.30,1568.85 978.32,1567.74 C981.35,1566.63 984.37,1570.95 987.40,1575.89 C990.42,1580.83 993.45,1588.98 996.47,1597.38 C999.50,1605.78 1002.50,1617.14 1005.55,1626.28 C1008.59,1635.42 1011.69,1644.93 1014.73,1652.21 C1017.78,1659.50 1020.48,1664.56 1023.81,1670.00 C1027.13,1675.43 1030.44,1680.86 1034.67,1684.82 C1038.91,1688.77 1044.38,1691.30 1049.24,1693.71 C1054.09,1696.12 1057.73,1698.03 1063.80,1699.27 C1069.87,1700.50 1078.37,1700.99 1085.65,1701.12 C1092.93,1701.24 1100.21,1700.62 1107.49,1700.01 C1114.78,1699.39 1122.67,1698.15 1129.34,1697.41 C1136.01,1696.67 1141.42,1695.56 1147.49,1695.56 C1153.56,1695.56 1159.08,1696.61 1165.75,1697.41 C1172.42,1698.22 1181.19,1699.51 1187.48,1700.38 C1193.78,1701.24 1200.83,1702.23 1203.50,1702.60" fill="none" stroke="#000" stroke-width="3.3" stroke-linejoin="round"/>
<path d="M954.57,1638.87 C956.40,1632.58 961.91,1610.47 965.55,1601.08 C969.19,1591.70 973.10,1586.51 976.42,1582.56 C979.74,1578.61 982.47,1577.37 985.49,1577.37 C988.52,1577.37 991.23,1578.61 994.57,1582.56 C997.91,1586.51 1002.19,1593.80 1005.55,1601.08 C1008.91,1608.37 1011.69,1618.13 1014.73,1626.28 C1017.78,1634.43 1020.48,1643.57 1023.81,1649.99 C1027.13,1656.41 1030.44,1661.10 1034.67,1664.81 C1038.91,1668.51 1044.38,1670.37 1049.24,1672.22 C1054.09,1674.07 1057.73,1674.94 1063.80,1675.92 C1069.87,1676.91 1078.37,1677.16 1085.65,1678.15 C1092.93,1679.13 1100.21,1680.62 1107.49,1681.85 C1114.78,1683.09 1122.67,1684.45 1129.34,1685.56 C1136.01,1686.67 1141.42,1687.29 1147.49,1688.52 C1153.56,1689.76 1159.08,1691.48 1165.75,1692.97 C1172.42,1694.45 1180.82,1696.18 1187.48,1697.41 C1194.15,1698.65 1199.99,1699.51 1205.74,1700.38 C1211.50,1701.24 1219.28,1702.23 1221.99,1702.60" fill="none" stroke="#b80a0a" stroke-width="3.3" stroke-linejoin="round"/>
<line x1="954.80" y1="1444.60" x2="954.80" y2="1703.60" stroke="#000" stroke-width="2.1"/>
<line x1="953.80" y1="1702.60" x2="1303.09" y2="1702.60" stroke="#000" stroke-width="2.1"/>
<line x1="950.80" y1="1702.60" x2="954.80" y2="1702.60" stroke="#000" stroke-width="2"/>
<line x1="950.80" y1="1628.50" x2="954.80" y2="1628.50" stroke="#000" stroke-width="2"/>
<line x1="950.80" y1="1554.40" x2="954.80" y2="1554.40" stroke="#000" stroke-width="2"/>
<line x1="950.80" y1="1480.30" x2="954.80" y2="1480.30" stroke="#000" stroke-width="2"/>
<line x1="952.30" y1="1665.55" x2="954.80" y2="1665.55" stroke="#000" stroke-width="1.6"/>
<line x1="952.30" y1="1591.45" x2="954.80" y2="1591.45" stroke="#000" stroke-width="1.6"/>
<line x1="952.30" y1="1517.35" x2="954.80" y2="1517.35" stroke="#000" stroke-width="1.6"/>
<line x1="966.00" y1="1702.60" x2="966.00" y2="1706.60" stroke="#000" stroke-width="2"/>
<line x1="1078.03" y1="1702.60" x2="1078.03" y2="1706.60" stroke="#000" stroke-width="2"/>
<line x1="1190.06" y1="1702.60" x2="1190.06" y2="1706.60" stroke="#000" stroke-width="2"/>
<line x1="1302.09" y1="1702.60" x2="1302.09" y2="1706.60" stroke="#000" stroke-width="2"/>
<line x1="1022.01" y1="1702.60" x2="1022.01" y2="1705.10" stroke="#000" stroke-width="1.6"/>
<line x1="1134.05" y1="1702.60" x2="1134.05" y2="1705.10" stroke="#000" stroke-width="1.6"/>
<line x1="1246.08" y1="1702.60" x2="1246.08" y2="1705.10" stroke="#000" stroke-width="1.6"/>
<text transform="translate(924.85,1707.20) scale(0.9700,1)" font-size="17.49" font-weight="normal" fill="#000" stroke="#000" stroke-width="0.3">0.0</text>
<text transform="translate(925.02,1633.10) scale(0.9700,1)" font-size="17.49" font-weight="normal" fill="#000" stroke="#000" stroke-width="0.3">0.1</text>
<text transform="translate(925.07,1559.00) scale(0.9700,1)" font-size="17.49" font-weight="normal" fill="#000" stroke="#000" stroke-width="0.3">0.2</text>
<text transform="translate(924.94,1484.90) scale(0.9700,1)" font-size="17.49" font-weight="normal" fill="#000" stroke="#000" stroke-width="0.3">0.3</text>
<text transform="translate(960.30,1721.10) scale(1.0400,1)" font-size="16.92" font-weight="normal" fill="#000" stroke="#000" stroke-width="0.3">0</text>
<text transform="translate(1063.82,1721.10) scale(0.9300,1)" font-size="16.92" font-weight="normal" fill="#000" stroke="#000" stroke-width="0.3">100</text>
<text transform="translate(1176.04,1721.10) scale(0.9300,1)" font-size="16.92" font-weight="normal" fill="#000" stroke="#000" stroke-width="0.3">200</text>
<text transform="translate(1288.17,1721.10) scale(0.9300,1)" font-size="16.92" font-weight="normal" fill="#000" stroke="#000" stroke-width="0.3">300</text>
<text transform="translate(983.49,1505.60) scale(1.0362,1)" font-size="41.10" font-weight="normal" fill="#000">Pinch</text>
<text transform="translate(1291.67,1646.80) scale(0.9912,1)" font-size="43.15" font-weight="normal" fill="#000">NS</text>
<text transform="translate(893.80,1648.52) rotate(-90) scale(0.9853,1)" font-size="31.03" font-weight="normal" fill="#000">Probability</text>
<rect x="1215.30" y="1433.50" width="37.10" height="18.80" fill="#000"/>
<g clip-path="url(#clip1215_1433)">
<clipPath id="clip1215_1433"><rect x="1215.3" y="1433.5" width="37.100000000000136" height="18.799999999999955"/></clipPath>
<line x1="1195.3" y1="1452.3" x2="1214.1" y2="1433.5" stroke="#555" stroke-width="0.8"/>
<line x1="1200.6" y1="1452.3" x2="1219.4" y2="1433.5" stroke="#555" stroke-width="0.8"/>
<line x1="1205.9" y1="1452.3" x2="1224.7" y2="1433.5" stroke="#555" stroke-width="0.8"/>
<line x1="1211.2" y1="1452.3" x2="1230.0" y2="1433.5" stroke="#555" stroke-width="0.8"/>
<line x1="1216.5" y1="1452.3" x2="1235.3" y2="1433.5" stroke="#555" stroke-width="0.8"/>
<line x1="1221.8" y1="1452.3" x2="1240.6" y2="1433.5" stroke="#555" stroke-width="0.8"/>
<line x1="1227.1" y1="1452.3" x2="1245.9" y2="1433.5" stroke="#555" stroke-width="0.8"/>
<line x1="1232.4" y1="1452.3" x2="1251.2" y2="1433.5" stroke="#555" stroke-width="0.8"/>
<line x1="1237.7" y1="1452.3" x2="1256.5" y2="1433.5" stroke="#555" stroke-width="0.8"/>
<line x1="1243.0" y1="1452.3" x2="1261.8" y2="1433.5" stroke="#555" stroke-width="0.8"/>
<line x1="1248.3" y1="1452.3" x2="1267.1" y2="1433.5" stroke="#555" stroke-width="0.8"/>
<line x1="1253.6" y1="1452.3" x2="1272.4" y2="1433.5" stroke="#555" stroke-width="0.8"/>
<line x1="1258.9" y1="1452.3" x2="1277.7" y2="1433.5" stroke="#555" stroke-width="0.8"/>
<line x1="1264.2" y1="1452.3" x2="1283.0" y2="1433.5" stroke="#555" stroke-width="0.8"/>
<line x1="1269.5" y1="1452.3" x2="1288.3" y2="1433.5" stroke="#555" stroke-width="0.8"/>
</g>
<rect x="1215.30" y="1460.00" width="37.10" height="18.30" fill="#f01414" stroke="#5a0c0c" stroke-width="1"/>
<g clip-path="url(#clipr1215_1460)">
<clipPath id="clipr1215_1460"><rect x="1215.8" y="1460.5" width="36.100000000000136" height="17.299999999999955"/></clipPath>
<line x1="1195.3" y1="1460.0" x2="1213.6" y2="1478.3" stroke="#9a2c2c" stroke-width="1.5" stroke-dasharray="1.6,1.6"/>
<line x1="1198.9" y1="1460.0" x2="1217.2" y2="1478.3" stroke="#9a2c2c" stroke-width="1.5" stroke-dasharray="1.6,1.6"/>
<line x1="1202.5" y1="1460.0" x2="1220.8" y2="1478.3" stroke="#9a2c2c" stroke-width="1.5" stroke-dasharray="1.6,1.6"/>
<line x1="1206.1" y1="1460.0" x2="1224.4" y2="1478.3" stroke="#9a2c2c" stroke-width="1.5" stroke-dasharray="1.6,1.6"/>
<line x1="1209.7" y1="1460.0" x2="1228.0" y2="1478.3" stroke="#9a2c2c" stroke-width="1.5" stroke-dasharray="1.6,1.6"/>
<line x1="1213.3" y1="1460.0" x2="1231.6" y2="1478.3" stroke="#9a2c2c" stroke-width="1.5" stroke-dasharray="1.6,1.6"/>
<line x1="1216.9" y1="1460.0" x2="1235.2" y2="1478.3" stroke="#9a2c2c" stroke-width="1.5" stroke-dasharray="1.6,1.6"/>
<line x1="1220.5" y1="1460.0" x2="1238.8" y2="1478.3" stroke="#9a2c2c" stroke-width="1.5" stroke-dasharray="1.6,1.6"/>
<line x1="1224.1" y1="1460.0" x2="1242.4" y2="1478.3" stroke="#9a2c2c" stroke-width="1.5" stroke-dasharray="1.6,1.6"/>
<line x1="1227.7" y1="1460.0" x2="1246.0" y2="1478.3" stroke="#9a2c2c" stroke-width="1.5" stroke-dasharray="1.6,1.6"/>
<line x1="1231.3" y1="1460.0" x2="1249.6" y2="1478.3" stroke="#9a2c2c" stroke-width="1.5" stroke-dasharray="1.6,1.6"/>
<line x1="1234.9" y1="1460.0" x2="1253.2" y2="1478.3" stroke="#9a2c2c" stroke-width="1.5" stroke-dasharray="1.6,1.6"/>
<line x1="1238.5" y1="1460.0" x2="1256.8" y2="1478.3" stroke="#9a2c2c" stroke-width="1.5" stroke-dasharray="1.6,1.6"/>
<line x1="1242.1" y1="1460.0" x2="1260.4" y2="1478.3" stroke="#9a2c2c" stroke-width="1.5" stroke-dasharray="1.6,1.6"/>
<line x1="1245.7" y1="1460.0" x2="1264.0" y2="1478.3" stroke="#9a2c2c" stroke-width="1.5" stroke-dasharray="1.6,1.6"/>
<line x1="1249.3" y1="1460.0" x2="1267.6" y2="1478.3" stroke="#9a2c2c" stroke-width="1.5" stroke-dasharray="1.6,1.6"/>
<line x1="1252.9" y1="1460.0" x2="1271.2" y2="1478.3" stroke="#9a2c2c" stroke-width="1.5" stroke-dasharray="1.6,1.6"/>
<line x1="1256.5" y1="1460.0" x2="1274.8" y2="1478.3" stroke="#9a2c2c" stroke-width="1.5" stroke-dasharray="1.6,1.6"/>
<line x1="1260.1" y1="1460.0" x2="1278.4" y2="1478.3" stroke="#9a2c2c" stroke-width="1.5" stroke-dasharray="1.6,1.6"/>
<line x1="1263.7" y1="1460.0" x2="1282.0" y2="1478.3" stroke="#9a2c2c" stroke-width="1.5" stroke-dasharray="1.6,1.6"/>
<line x1="1267.3" y1="1460.0" x2="1285.6" y2="1478.3" stroke="#9a2c2c" stroke-width="1.5" stroke-dasharray="1.6,1.6"/>
<line x1="1270.9" y1="1460.0" x2="1289.2" y2="1478.3" stroke="#9a2c2c" stroke-width="1.5" stroke-dasharray="1.6,1.6"/>
</g>
<text transform="translate(1255.27,1448.00) scale(1.0001,1)" font-size="17.63" font-weight="normal" fill="#000">ITS</text>
<text transform="translate(1255.28,1474.30) scale(0.9962,1)" font-size="17.63" font-weight="normal" fill="#000">ITC</text>
<text transform="translate(982.91,1763.00) scale(1.0265,1)" font-size="30.62" font-weight="normal" fill="#000">Distribution</text>
<text transform="translate(1143.77,1763.00) scale(1.0771,1)" font-size="31.28" font-weight="normal" fill="#000">of</text>
<text transform="translate(1178.14,1763.00) scale(1.0168,1)" font-size="30.90" font-weight="normal" fill="#000">spikes</text>
</svg>
</body></html>
